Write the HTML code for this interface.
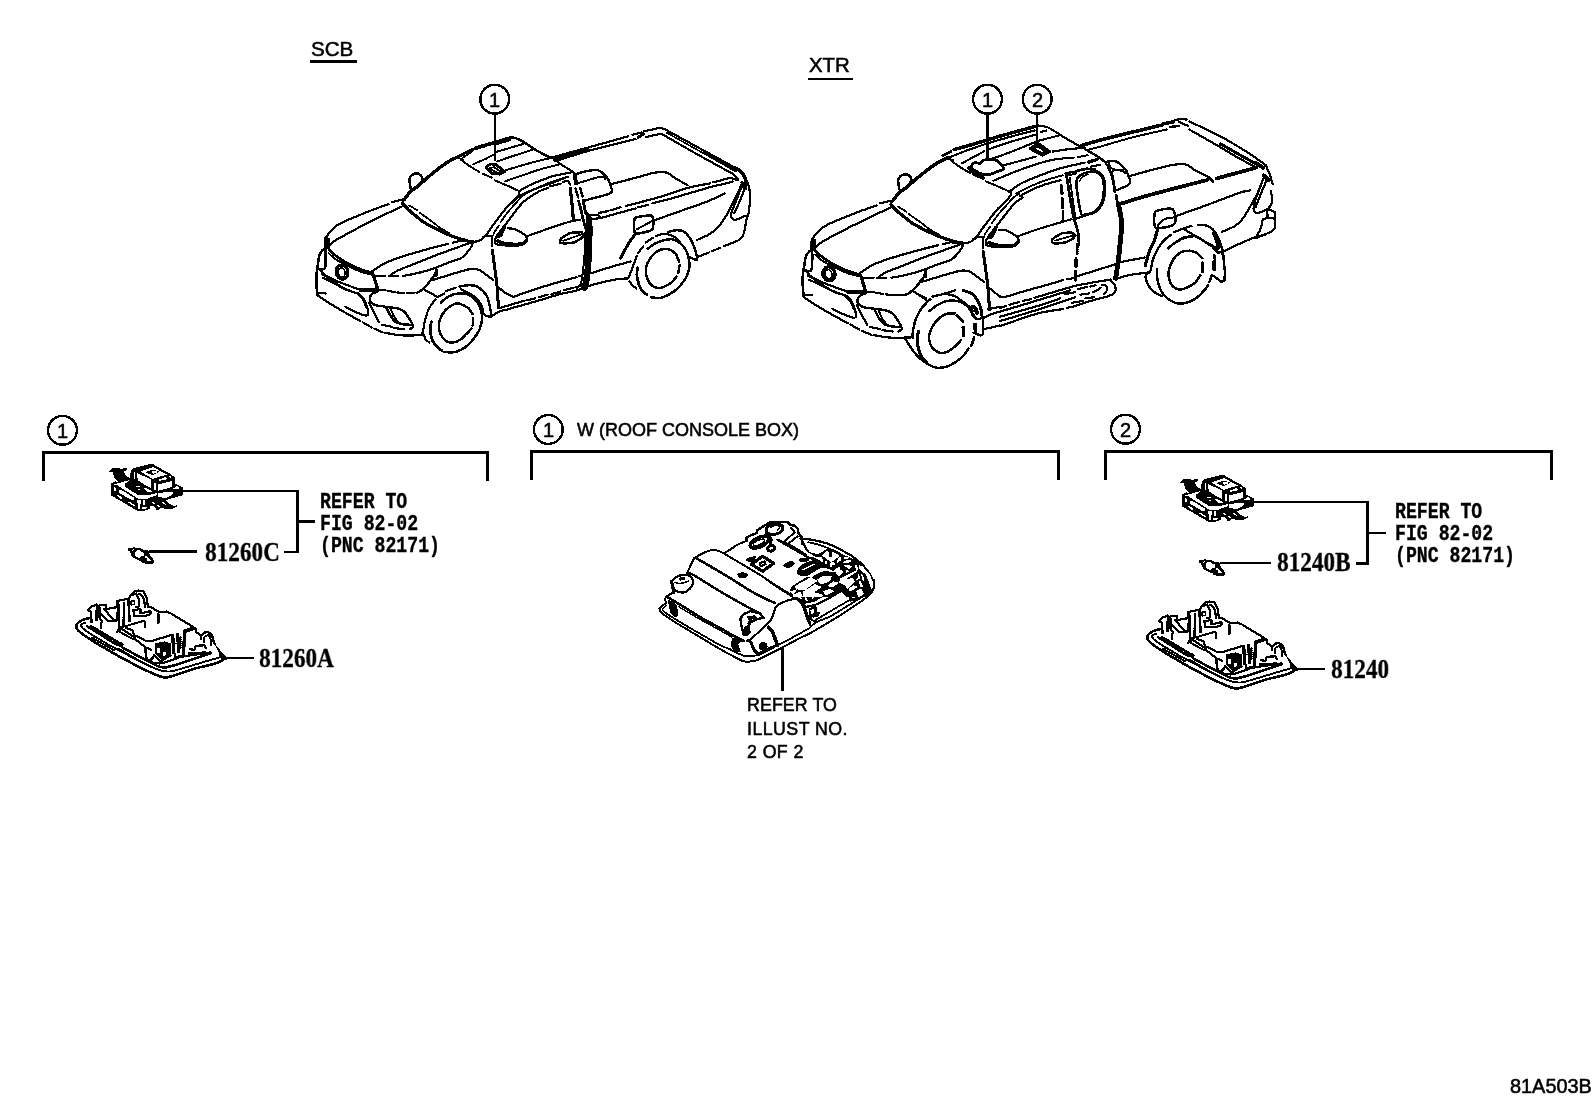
<!DOCTYPE html>
<html>
<head>
<meta charset="utf-8">
<title>81A503B</title>
<style>
html,body{margin:0;padding:0;background:#fff;}
body{width:1592px;height:1099px;position:relative;overflow:hidden;font-family:"Liberation Sans",sans-serif;color:#000;}
svg{position:absolute;left:0;top:0;}
.t{position:absolute;white-space:nowrap;line-height:1;color:#000;transform-origin:0 0;will-change:transform;}
.sans{font-family:"Liberation Sans",sans-serif;-webkit-text-stroke:0.55px #000;}
.mono{font-family:"Liberation Mono",monospace;font-weight:bold;-webkit-text-stroke:0.3px #000;}
.serif{font-family:"Liberation Serif",serif;font-weight:bold;-webkit-text-stroke:0.35px #000;}
</style>
</head>
<body>
<svg width="1592" height="1099" viewBox="0 0 1592 1099" fill="none" stroke="#000" stroke-linecap="round" stroke-linejoin="round" shape-rendering="crispEdges">
<defs>
<!--SYMBOLS-->
<g id="front">
<path stroke-width="2.2" d="M326.3 237.4C326.8 236.7 327.9 234.3 328.8 233C329.8 231.8 330.6 231.2 332 229.9C333.3 228.6 334.8 227 337 225.5C339.2 224 341.3 222.9 345.2 221.1C349 219.3 355.6 216.7 360.3 214.8C364.9 212.9 369.8 211 372.8 209.8C375.9 208.6 377.5 208.2 378.5 207.9M379.7 207.3L388.5 204.1M391.7 202.3C393.1 201.9 398.5 200.5 400.5 200C402.4 199.5 403.1 199.5 403.6 199.4M328.8 245.6C329.9 244.8 332.4 242.4 335.1 240.6C337.8 238.8 341 237.2 345.2 234.9C349.4 232.6 355.6 229.2 360.3 226.8C364.9 224.4 368.6 222.6 372.8 220.5C377 218.4 380.6 216.5 385.4 214.2C390.2 211.9 399 207.9 401.7 206.7"/>
<path stroke-width="3.2" d="M402.3 203.5C402.9 204 404.1 205.3 405.5 206.7C406.8 208 408.6 210 410.5 211.7C412.4 213.4 414.7 215 416.8 216.7C418.9 218.4 420.8 220.2 423.1 221.7C425.4 223.3 427.7 224.6 430.6 226.1C433.5 227.7 437.3 229.6 440.7 231.2C444 232.7 447.4 234.2 450.7 235.6C454.1 236.9 457.2 238 460.8 239.1C464.3 240.2 470.2 241.6 472.1 242.1"/>
<path stroke-width="1.8" d="M409.2 205.4L417.4 210.4M419.9 212.9C421.7 214.2 427.1 217.9 430.6 220.5C434.1 223 437.5 226.2 440.7 228.3C443.8 230.4 448 232.2 449.4 233"/>
<path stroke-width="3.4" d="M404.2 199.7C405.3 198.4 408.4 193.7 410.5 191.6C412.6 189.5 414.7 188.9 416.8 187.2C418.9 185.5 419.9 184.3 423.1 181.5C426.2 178.8 431.4 174.2 435.6 170.9C439.8 167.5 444.5 164 448.2 161.7C451.9 159.4 456 157.8 457.6 157"/>
<path stroke-width="2" d="M402.3 203.9C402.4 203.4 402.4 202.1 403 201C403.5 199.9 404.2 198.7 405.5 197.2C406.7 195.8 409.7 193 410.5 192.2"/>
<path stroke-width="2.5" d="M410.5 187.8C410.3 186.3 409.3 181.1 409.5 179C409.7 176.9 410.8 176.2 411.8 175.3C412.8 174.3 414.2 173.5 415.5 173.4C416.9 173.3 418.8 173.8 419.9 174.6C421.1 175.5 422.3 177 422.4 178.4C422.5 179.8 421.7 181.3 420.6 182.8C419.4 184.3 417 186 415.5 187.2C414.1 188.3 412.4 189.3 411.8 189.7"/>
<path stroke-width="2" d="M457.6 157.9L462.6 159.2M460.8 159.5C462 160.5 465.2 163.1 468.3 165.2C471.4 167.3 477.7 171 479.6 172.1M482.7 173.7L491.5 177.5M494.7 180.3C496.1 180.9 500.9 183 503.5 184C506 185.1 507.9 185.9 510 186.8C512.1 187.8 514.5 189 516 189.7C517.6 190.4 518.6 190.7 519.2 191"/>
<path stroke-width="2.2" d="M472.1 242.1C473.3 241.8 477.3 241.7 479.6 240.6C481.9 239.5 484 237.6 485.9 235.6C487.8 233.5 488.8 230.9 490.9 228C493 225.1 495.9 221.3 498.4 218C501 214.7 504.1 210.4 506 208.2C507.9 205.9 508.5 205.9 510 204.4C511.5 202.9 513.6 200.7 515 199.1C516.5 197.5 518.1 196.1 518.8 194.7C519.5 193.4 519.3 191.6 519.4 191"/>
<path stroke-width="1.8" d="M493.5 233.5L498.8 225.6M500.6 222.1C501.8 220.5 505.3 215.3 507.7 212.4C510 209.4 512.4 207.1 514.7 204.4C517.1 201.8 519.7 198.4 521.8 196.5C523.8 194.6 526.2 193.5 527.1 192.9"/>
<path stroke-width="2.2" d="M497.1 235.3C498.2 233.8 502.1 229.1 504.1 226.5C506.2 223.8 507.2 222.4 509.4 219.4C511.6 216.5 515 211.8 517.4 208.8C519.7 205.9 521.3 203.8 523.5 201.8C525.8 199.7 529.4 197.4 530.6 196.5"/>
<path stroke-width="1.2" fill="#000" d="M497.1 237.5L501.5 236.4L505.9 226.5L504.1 224.9Z"/>
<path stroke-width="2.2" d="M507.7 228.3C508.8 228.4 512.5 228.5 514.7 229.1C516.9 229.8 519.1 231.1 520.9 232.2C522.7 233.3 524.8 234.4 525.8 235.8C526.7 237.2 527 239.2 526.6 240.6C526.3 242 524.9 243.3 523.5 244.1C522.2 244.9 521.2 245.2 518.3 245.5C515.3 245.7 509.6 245.7 505.9 245.5C502.2 245.2 498 244.9 496.2 244.1C494.3 243.3 494.9 241.8 494.9 240.6C494.9 239.4 496 237.7 496.2 237.1"/>
<path stroke-width="3.6" d="M498 241.1C499.3 241.5 501.9 243.2 505.9 243.7C509.9 244.2 518.4 244.5 521.8 244C525.2 243.4 525.5 241.2 526.2 240.6"/>
<path stroke-width="2" d="M482.9 237.3C483.5 237 484.7 236.2 486.5 235.9C488.2 235.6 492.4 235.6 493.5 235.5"/>
<path stroke-width="2.5" stroke-dasharray="1.2 1" d="M492 236.2L492 246.8"/>
<path stroke-width="3" d="M492.4 250.1C492.6 251.8 493.2 257 493.7 260.2C494.1 263.3 494.3 264.4 494.9 269C495.5 273.6 496.6 281.3 497.2 287.8C497.8 294.3 498.2 304.6 498.4 307.9"/>
<path stroke-width="4" d="M326.1 238.2L325.7 247.6"/>
<path stroke-width="1.8" d="M328.8 238.8L328.8 248.9"/>
<path stroke-width="2.8" d="M328.8 248.9C329.9 249.9 332.4 253 335.1 255.2C337.8 257.3 341.4 259.9 345.2 262.1C348.9 264.3 353.6 266.6 357.7 268.3C361.9 270.1 368.2 271.8 370.3 272.5"/>
<path stroke-width="2" d="M328.8 253.3C329.9 254.2 332 256.8 335.1 258.9C338.3 261 343.5 263.7 347.7 265.8C351.9 267.9 356.3 270 360.3 271.5C364.2 272.9 369.7 274.1 371.6 274.6"/>
<path stroke-width="2.2" d="M371.6 271.7C373.9 270.3 379.9 265.6 385.4 262.9C390.8 260.3 397.9 258.1 404.2 256C410.5 253.9 416.8 252.2 423.1 250.4C429.3 248.6 437.7 246.4 441.9 245.4C446.1 244.3 447.1 244.1 448.2 243.8M453.2 242.6L459.5 241.1M462 241L472.1 241.1M390.4 275.3C391.7 274.5 393.5 272.5 397.9 270.5C402.3 268.4 410.5 265.5 416.8 262.9C423.1 260.4 429.3 257.8 435.6 255.4C441.9 253 448.6 250.6 454.5 248.5C460.3 246.4 468.1 243.6 470.8 242.6M473.3 241.3C472.9 242.4 472.1 245.5 470.8 247.6C469.5 249.7 467.5 252.1 465.8 253.9C464.1 255.7 463.7 256.8 460.8 258.3C457.8 259.8 452.4 261.1 448.2 262.7C444 264.3 439.8 266.2 435.6 267.7C431.4 269.2 427.3 270.6 423.1 271.7C418.9 272.9 413.9 273.9 410.5 274.6C407.2 275.3 404.2 275.7 403 275.9M397.9 276.3L389.1 276.3M385.4 276L375.3 275.9"/>
<path stroke-width="2.5" d="M326.3 247.6C325.7 248 323.7 248.9 322.6 250.1C321.4 251.4 320.2 253.1 319.4 255.2C318.7 257.2 318.6 260.2 318.2 262.7C317.7 265.2 317.2 267.5 316.9 270.2C316.6 272.9 316.3 275.7 316.3 279C316.3 282.4 316.7 287.6 316.9 290.3C317.1 293 317.4 294.5 317.5 295.4M325.7 248.9C325.6 252 326.1 264.4 325.1 267.7C324 271.1 320.4 268.8 319.4 269"/>
<path stroke-width="2.2" d="M319.4 269C320.4 270 322.5 273.4 325.1 275.3C327.7 277.1 331.4 278.6 335.1 280.3C338.9 282 343.5 283.7 347.7 285.3C351.9 286.9 358.2 289 360.3 289.7"/>
<path stroke-width="3.8" d="M360.3 290.1L376.6 289.7"/>
<path stroke-width="1.6" d="M321.3 274C323.2 275.1 329.1 278.7 332.6 280.9C336.2 283.1 339.3 285.4 342.7 287.2C346 289 351 290.9 352.7 291.6"/>
<path stroke-width="2.2" d="M322.6 277.8C324.7 278.8 330.9 282 335.1 284C339.3 286.1 343.9 288.8 347.7 290.3C351.5 291.9 355.2 292.2 357.7 293.5C360.3 294.7 361.3 295.9 362.8 297.9C364.2 299.9 365.6 302.7 366.5 305.4C367.5 308.1 368.6 312.5 368.4 314.2C368.2 315.9 367.1 315.7 365.3 315.5C363.5 315.2 361.1 314.4 357.7 312.9C354.4 311.5 347.3 307.7 345.2 306.7"/>
<path stroke-width="3.2" d="M358.4 294.1C359.2 294.9 362 297 363.4 299.1C364.8 301.2 366 305.4 366.5 306.7"/>
<ellipse cx="342" cy="272.1" rx="5.9" ry="7" transform="rotate(-12 342 272.1)" stroke-width="3.2"/>
<ellipse cx="341.7" cy="272.5" rx="3.3" ry="4.6" transform="rotate(-12 341.7 272.5)" stroke-width="1.6"/>
<path stroke-width="3.2" d="M372.8 273.4C373.2 274.7 374.5 278.8 375.3 281.5C376.2 284.3 377.4 288.3 377.8 289.7"/>
<path stroke-width="2.2" stroke-dasharray="7 2.5" d="M378.5 289.8C379.6 289.9 382.6 289.9 385.4 290.3C388.2 290.7 392.1 291.8 395.4 292.2C398.8 292.7 401.9 293 405.5 293.1C409 293.2 414.9 292.9 416.8 292.8"/>
<path stroke-width="2.5" d="M416.8 292.8C417.4 292.5 419.1 292 420.6 291C422 289.9 423.9 288.3 425.6 286.6C427.3 284.8 429.1 282.2 430.6 280.3C432.1 278.4 433.4 276.9 434.4 275.3C435.3 273.6 435.9 271.1 436.3 270.2"/>
<path stroke-width="3" d="M436.3 269.6L436.3 275.3"/>
<path stroke-width="2.2" d="M431.9 280.3C434.6 279.4 443.4 276.7 448.2 275.3C453 273.8 457 272.5 460.8 271.5C464.5 270.4 467.9 269.3 470.8 269C473.7 268.7 475.8 268.7 478.3 269.6C480.9 270.5 483.4 272.8 485.9 274.6C488.4 276.4 492.2 279.3 493.4 280.3M424.3 289.7L436.9 296.6"/>
<path stroke-width="2.4" d="M377.8 291.6C377 291.9 374.2 292.4 372.8 293.5C371.5 294.5 369.9 296.3 369.7 297.9C369.5 299.4 370.4 301.6 371.6 302.9C372.7 304.1 374.3 304.8 376.6 305.4C378.9 306 381.8 306.1 385.4 306.7C388.9 307.2 394.8 307.7 397.9 308.5C401.1 309.4 402.5 310.3 404.2 311.7C405.9 313 406.7 314.8 408 316.7C409.2 318.6 410.9 321.3 411.8 323C412.6 324.7 413.3 325.7 413 326.8C412.7 327.8 410.4 328.9 409.9 329.3"/>
<path stroke-width="2.5" d="M386.6 307.9C387.3 309.2 388.9 313.1 390.4 315.5C391.9 317.8 393.3 320.3 395.4 321.7C397.5 323.2 400.2 323.7 403 324.2C405.7 324.8 410.3 324.8 411.8 324.9"/>
<path stroke-width="1.9" d="M390.4 308.5C391 309.9 392.9 314.5 394.2 316.7C395.4 318.9 397.3 320.9 397.9 321.7"/>
<path stroke-width="2.2" d="M317.5 295.4C319.4 296.6 324.9 300.4 328.8 302.9C332.8 305.4 336.2 307.4 341.4 310.4C346.6 313.5 357.1 319.3 360.3 321.1M362.8 322.4L371.6 327.4M374.1 328.6L382.9 332.4M385.4 332.8C387.9 333.2 394.4 334.9 400.5 335.3C406.5 335.7 418.2 335.3 421.8 335.3M382.2 324.9L391.7 326.8M394.2 328L404.2 329.3M317.5 292.8L325.7 293.5M369 302.9C369.9 304.6 372.4 309.7 374.1 312.9C375.7 316.2 378.3 320.8 379.1 322.4"/>
</g>
<!--/SYMBOLS-->
</defs>

<!-- headings underline -->
<g stroke-width="2.6" stroke-linecap="butt">
<line x1="310" y1="61.5" x2="357" y2="61.5"/>
<line x1="808" y1="79.2" x2="853" y2="79.2" stroke-width="2.2"/>
</g>

<!-- callout circles -->
<g stroke-width="2.4">
<circle cx="494.7" cy="99.2" r="14.4"/>
<circle cx="987.5" cy="99.2" r="14.4"/>
<circle cx="1037.2" cy="99.2" r="14.4"/>
<circle cx="62.5" cy="430.3" r="14.4"/>
<circle cx="548.3" cy="429.5" r="14.4"/>
<circle cx="1125.5" cy="429.2" r="14.4"/>
</g>
<!-- callout leaders -->
<g stroke-linecap="butt">
<line x1="494.7" y1="114" x2="494.7" y2="161" stroke-width="2.2"/>
<line x1="987.5" y1="114" x2="987.5" y2="160" stroke-width="2.8"/>
<line x1="1037.2" y1="114" x2="1037.2" y2="141" stroke-width="2.4"/>
</g>

<!-- brackets -->
<g stroke-width="3" stroke-linecap="butt" stroke-linejoin="miter">
<polyline points="43,480.8 43,452.5 487.5,452.5 487.5,480.8"/>
<polyline points="531.7,479.8 531.7,451.5 1058,451.5 1058,479.8"/>
<polyline points="1105.8,479.5 1105.8,451.2 1551.3,451.2 1551.3,479.7"/>
</g>

<!-- leaders in panels -->
<g stroke-width="2.5" stroke-linecap="butt" stroke-linejoin="miter">
<polyline points="183,490.8 297.3,490.8 297.3,552 284,552"/>
<line x1="297.3" y1="521.3" x2="314.7" y2="521.3"/>
<line x1="149" y1="551.7" x2="196.7" y2="551.7"/>
<line x1="224.7" y1="658.2" x2="254.2" y2="658.2"/>
<line x1="782.3" y1="647.5" x2="782.3" y2="691" stroke-width="3"/>
<polyline points="1253,501.8 1367.3,501.8 1367.3,563.6 1355.5,563.6"/>
<line x1="1367.3" y1="532.8" x2="1385.8" y2="532.8"/>
<line x1="1220" y1="563" x2="1270.8" y2="563"/>
<line x1="1295.6" y1="669.1" x2="1324.8" y2="669.1"/>
</g>

<!--TRUCK1-->
<use href="#front"/>
<path stroke-width="3" d="M457.6 157C459.2 156.2 464 153.5 467 152C470.1 150.5 474.4 148.9 475.8 148.2"/>
<path stroke-width="3.8" d="M475.8 148.2L485.9 145.1M487.1 144.6L493.4 143M495.9 142.6C497.2 142.2 501.1 140.8 503.5 140.1C505.8 139.3 508.9 138.5 510 138.2"/>
<path stroke-width="1.8" d="M462.6 157.9L472.1 151.4M497.2 144.1L510 140.3"/>
<path stroke-width="2.4" d="M510 137.6C510.8 137.6 512.9 137.3 515 137.9C517.1 138.6 519.2 139.4 522.6 141.3C525.9 143.3 530.9 147 535.1 149.5C539.3 152 544.9 155.1 547.7 156.4C550.5 157.7 551.4 157.2 552.1 157.4"/>
<path stroke-width="2" d="M473.3 164.2C475.4 163.3 482.3 160.3 485.9 158.7C489.4 157 493.2 154.9 494.7 154.1M495.9 152C498.3 151.3 505.4 149.2 510 147.9C514.6 146.5 521.5 144.5 523.8 143.8M497.2 161.4C499.3 160.7 504 159 510 157C516 155 529.4 150.8 533.2 149.5M505 170.5C505.8 170.2 507.1 169.8 510 169C512.9 168.1 518.4 166.4 522.6 165.2C526.8 164 530.5 162.9 535.1 161.7C539.7 160.5 547.7 158.8 550.2 158.2M504.7 181.5C505.6 181.2 507 180.7 510 179.6C513 178.6 517.3 177 522.6 175.3C527.8 173.5 535.3 170.7 541.4 169C547.5 167.2 556.1 165.3 559 164.6"/>
<path stroke-width="2.8" d="M485.9 167.1L490.9 163.9L495.9 164.6L504.7 171.5L499.7 174.2L492.2 173.4Z"/>
<path stroke-width="1.9" d="M489.6 168.3L494 167.1L501.6 172.1L497.2 173Z"/>
<path stroke-width="2.1" d="M552.1 157.4C553 158.2 555.5 160.4 557.7 162.1C559.9 163.7 562.7 165.4 565.3 167.1C567.9 168.8 572.1 171.3 573.4 172.1"/>
<path stroke-width="2.2" d="M519.4 191C521 190.1 525.2 187.3 528.8 185.6C532.5 183.8 537.2 181.9 541.4 180.3C545.6 178.7 548.7 177.2 554 175.9C559.2 174.5 569.7 172.7 572.8 172.1M510 204.4C511.3 203.3 514.8 199.6 517.5 197.6C520.3 195.6 522.4 194.4 526.3 192.6C530.3 190.7 536.8 188.3 541.4 186.6C546 184.8 549.6 183.8 554 182.2C558.4 180.5 565.5 177.7 567.8 176.8"/>
<path stroke-width="1.8" d="M527.1 192.9C529.1 191.9 535.2 188.7 539.4 186.8C543.7 184.9 548 183.2 552.7 181.5C557.4 179.8 565.2 177.4 567.7 176.6"/>
<path stroke-width="2.2" d="M530.6 196.5C532.1 195.6 536.5 192.7 539.4 191.2C542.4 189.7 546.8 188.2 548.3 187.7M550 186.3L560.6 183.7M563.3 181.9C564 181.8 566.5 180.6 567.7 181C568.9 181.5 569.9 184 570.3 184.6"/>
<path stroke-width="2.1" d="M527.1 236.2C529.1 235.5 534.4 233.5 539.4 231.8C544.4 230 551.5 227.4 557.1 225.6C562.7 223.8 569.1 221.8 573 220.9C576.8 220 578.9 220.4 580 220.3"/>
<path stroke-width="3.2" d="M570.3 188.5C570.5 189.9 570.8 192.9 571.2 196.5C571.6 200 572.2 205.7 572.5 209.7C572.9 213.7 573.3 218.7 573.4 220.5"/>
<path stroke-width="2.5" d="M575.6 188.5L578.3 197.4M580 187.7L582.7 196.5"/>
<path stroke-width="2.8" d="M578.7 201.3C579.1 202.7 580.1 206.4 580.9 209.7C581.7 213 582.5 217.5 583.6 221.2C584.6 224.9 586.5 230 587.1 231.8"/>
<path stroke-width="2" d="M585.1 232.5C585.2 233.4 585.5 233.6 585.4 237.6C585.3 241.5 584.9 250.1 584.4 256.4C583.9 262.7 583.1 270.6 582.5 275.3C581.9 279.9 581.6 281.9 580.6 284C579.6 286.2 577.3 287.4 576.6 288.1"/>
<path stroke-width="2.5" d="M582.9 200.5C583.3 202.4 584.6 209.8 585.3 212.4C586.1 214.9 586.9 214.7 587.5 215.9C588.1 217.1 588.6 218.8 588.9 219.4"/>
<path stroke-width="6.5" d="M588.9 219.3C589 221.1 589.4 226.6 589.4 230C589.4 233.5 589.3 235.7 589.1 240.1C589 244.5 589 250.5 588.6 256.4C588.3 262.3 587.7 270.4 587.1 275.3C586.6 280.1 585.8 283.2 585.4 285.3C584.9 287.4 584.5 287.4 584.4 287.8"/>
<path stroke-width="2.4" d="M574.1 174.6C576.4 174 583.9 171.6 587.9 170.9C591.9 170.1 595.4 169.8 597.9 170.2C600.5 170.6 601.3 171.9 603 173.4C604.6 174.8 606.7 177 608 179C609.2 181 609.9 183.3 610.5 185.3C611.1 187.3 612.2 189.5 611.8 191C611.3 192.4 612.8 192.4 608 194.1C603.2 195.8 587.1 199.9 582.9 201"/>
<path stroke-width="2" d="M578.5 183C582.1 182 596 177.4 600.5 176.8C605 176.1 604.6 178.9 605.5 179.3"/>
<path stroke-width="4" d="M574.6 174.6L576.1 183.4"/>
<path stroke-width="2.2" d="M573.4 172.1L574.3 174.6M552.7 157.7C554 157.2 554.4 156.8 560.3 155.2C566.1 153.5 576.6 150.8 587.9 147.6C599.2 144.5 621.4 138.2 628.1 136.3M632.5 134.8L641.9 132.5M644.4 131C645.9 130.8 650.7 129.9 653.2 129.4C655.7 128.9 657.4 127.8 659.5 127.8C661.6 127.8 664.7 129.1 665.8 129.4M555.2 161.4C560.7 159.7 574.5 154.7 587.9 151C601.3 147.3 627.7 141.1 635.6 139.1"/>
<path stroke-width="3.1" d="M638.1 137.6L643.2 134"/>
<path stroke-width="2.2" d="M646.3 136.9L660.8 133.8"/>
<path stroke-width="2.8" stroke-dasharray="1.2 1.6" d="M554 159.5L587.9 149.2"/>
<path stroke-width="2.2" d="M665.1 129.4C671.8 133.1 694.4 145.4 705.3 151.4C716.2 157.3 725.2 162.4 730.4 165.2C735.6 168 734.8 167.2 736.7 168.3C738.6 169.5 740.2 170.5 741.7 172.1C743.2 173.7 744.8 176.8 745.5 177.8M662.6 134.4C668.2 137.7 686.9 148.5 696.5 153.9C706.1 159.3 714.3 163.7 720.4 167.1C726.4 170.4 730 172 732.9 174C735.8 176 737.1 178.4 737.9 179.3"/>
<path stroke-width="1.6" d="M666.3 132.5L704 153.6"/>
<path stroke-width="3.2" stroke-dasharray="1.2 1.2" d="M704 152.6L735.4 170.5"/>
<path stroke-width="3.5" d="M732.9 169C733.8 169 736.3 168.4 737.9 169.2C739.6 170.1 741.7 172.2 743 174C744.3 175.8 745.5 178.4 745.7 180.3C745.9 182.2 744.5 184.5 744.2 185.3"/>
<path stroke-width="2.2" d="M745.5 177.8C746.1 179.4 748.5 184 749.2 187.8C750 191.6 750 196.2 749.9 200.4C749.8 204.6 749.2 209.6 748.6 212.9C748 216.3 746.7 217.8 746.1 220.5C745.5 223.2 745.5 226.5 744.8 229.3C744.2 232 743.5 234.9 742.3 236.8C741.2 238.7 741 239 737.9 240.6C734.9 242.1 726.4 245.3 724.1 246.2M720.4 247.7L711.6 251.3M709 252.5L697.7 256.9M743 184C742.3 185.5 740.5 189.7 739.2 192.8C737.9 196 736.7 199.7 735.4 202.9C734.2 206 732.3 209.2 731.7 211.7C731 214.2 731 216.6 731.7 218C732.3 219.3 733.1 220.2 735.4 219.8C737.7 219.5 743.8 216.4 745.5 215.7M746.1 184C745.6 185.5 744.3 189.3 743 192.8C741.6 196.4 739.4 202.1 737.9 205.4C736.5 208.8 734.8 211.7 734.2 212.9"/>
<path stroke-width="3.8" d="M742.3 183L745.5 188.4"/>
<path stroke-width="2.2" d="M599.2 212.9L608 211.1M610.5 210.4L620.6 207.3M625.6 206C627.3 205.6 629.8 205.1 635.6 203.5C641.5 201.9 652 199.2 660.8 196.6C669.5 194 680.2 190 688.4 187.8C696.6 185.6 706.4 184.1 710 183.4M712.8 182.4L720.4 180.5M722.2 180C723.6 179.7 727.8 178 730.4 178C733 178.1 736.7 179.9 737.9 180.3M587.9 219.2C590 219 594.2 219.3 600.5 218C606.7 216.6 619.7 212.6 625.6 211.1C631.4 209.5 634 209 635.6 208.5M638.1 207.3L648.2 204.8M652 203.5C655.5 202.6 663.6 200.6 673.3 197.9C683 195.1 703.9 189 710 187.2M710.1 187.2C710.9 187 711.5 186.9 715.3 185.9C719.1 185 730 182.3 732.9 181.5M584.1 201C584.3 202.6 584.5 208.1 585.4 210.4C586.2 212.7 587.1 214 589.1 214.8C591.2 215.6 596.1 214.6 597.9 215.1C599.8 215.6 600 217.5 600.5 218M611.8 184C615.7 183 628.5 179.6 635.6 177.8C642.7 175.9 649.2 173.6 654.5 172.7C659.7 171.9 663.7 171.9 667 172.7C670.4 173.6 671.1 175.7 674.6 177.8C678 179.9 685.6 184 687.8 185.3M653.8 220.5C657.3 219.2 667.4 215.7 675.1 212.9C682.9 210.2 694 206.4 700.3 204.1C706.5 201.8 709.5 200.6 712.8 199.1C716.2 197.7 718.4 196.3 720.4 195.4C722.3 194.4 724 193.8 724.7 193.5"/>
<path stroke-width="2.5" d="M634.4 219.8C634.8 217.4 634.4 218.1 636.9 217.3C639.4 216.6 646.8 215.5 649.4 215.5C652.1 215.5 652 215.5 652.6 217.3C653.2 219.2 653.5 224.6 653.2 226.8C652.9 229 653.4 229.4 650.7 230.5C648 231.7 639.6 233.5 636.9 233.7C634.2 233.9 634.8 234.1 634.4 231.8C634 229.5 634 222.3 634.4 219.8Z"/>
<path stroke-width="2" d="M636.9 229.3L652 221.1"/>
<path stroke-width="3" d="M635 234.3C633.8 236 630.5 240.4 628.1 244.3C625.7 248.3 621.8 255.9 620.6 258.2"/>
<path stroke-width="2.2" d="M697.1 239.9C699.3 238.9 706.4 236.3 710.3 233.7C714.2 231.1 717.4 227.7 720.4 224.2C723.3 220.8 725.8 216.5 727.9 212.9C730 209.4 731.2 206.2 732.9 202.9C734.6 199.5 736.5 196 737.9 192.8C739.4 189.7 741.1 185.5 741.7 184"/>
<path stroke-width="2.4" d="M668.3 231.9C669.5 231.6 673.3 230.4 675.8 230.3C678.3 230.2 681.1 230.1 683.4 231.3C685.7 232.5 688 235.3 689.6 237.6C691.3 239.9 692.4 242.6 693.4 245.1C694.5 247.6 695.3 250.3 695.9 252.6C696.6 254.9 697.4 257.8 697.2 258.9C697 260.1 696.1 260 694.7 259.5C693.2 259.1 689.4 256.9 688.4 256.4"/>
<path stroke-width="2.2" d="M645.7 242.6L653.2 237.6M655.7 236.3C657.2 235.9 661.6 233.8 664.5 233.8C667.5 233.8 670.8 235.1 673.3 236.3C675.8 237.6 678.6 240.5 679.6 241.3"/>
<path stroke-width="2.5" d="M647.6 248.9C648.7 248 651.6 245.3 654.5 243.8C657.3 242.4 661.4 240.8 664.5 240.1C667.7 239.3 670.6 238.8 673.3 239.4C676 240.1 678.8 242.1 680.9 243.8C682.9 245.6 684.6 247.8 685.9 250.1C687.1 252.4 687.8 254.9 688.4 257.7C689 260.4 689.9 263.5 689.6 266.5C689.4 269.4 688.2 272.7 687.1 275.3C686.1 277.8 685 279.2 683.4 281.5C681.7 283.8 679.4 287 677.1 289.1C674.8 291.2 672.3 292.6 669.5 294.1C666.8 295.6 663.9 297.3 660.8 297.9C657.6 298.4 652.4 297.3 650.7 297.2"/>
<path stroke-width="2.8" d="M637.5 267.7C637.4 269 636.7 272.5 636.9 275.3C637.1 278 637.9 281.5 638.8 284C639.6 286.6 640.5 288.5 641.9 290.3C643.3 292.1 646.1 294 646.9 294.7"/>
<path stroke-width="2.2" d="M629.3 281.5C629.9 282.2 631.3 284.1 632.5 285.3C633.6 286.5 635.6 287.9 636.3 288.4"/>
<path stroke-width="2.5" d="M675.8 253.9C675 253.3 672.7 251 670.8 250.1C668.9 249.3 666.8 248.7 664.5 248.9C662.2 249.1 659.3 249.9 657 251.4C654.7 252.8 652.5 255.2 650.7 257.7C648.9 260.2 647 263.5 646.3 266.5C645.6 269.4 645.8 272.5 646.3 275.3C646.8 278 648.1 280.8 649.4 282.8C650.8 284.8 652.6 286.3 654.5 287.2C656.4 288 658.7 288.1 660.8 287.8C662.8 287.5 665.2 286.2 667 285.3C668.9 284.4 671.2 282.7 672.1 282.2M676.1 254.1L679 261.4M679.6 265.2L678.3 272.7M676.5 276.5L672.3 281.9"/>
<path stroke-width="2.2" d="M628.1 278.4C628.5 277.4 629.6 275.4 630.6 272.7C631.6 270.1 633.3 265.5 634.4 262.7C635.4 259.9 636.5 256.9 636.9 255.8M638.1 252.9L643.2 246.4M585.4 287.2C587.5 286.6 592.7 284.7 597.9 283.4C603.2 282.1 611.8 280.1 616.8 279.3C621.8 278.4 626.2 278.5 628.1 278.4M590.4 273.4C593.8 272.3 603.8 269.1 610.5 267.1C617.2 265.1 627.3 262.4 630.6 261.4M497.8 286.6C498.8 287.4 501.4 290.1 503.5 291.6C505.5 293 508.3 294.5 510 295.4C511.7 296.2 511.7 296.9 513.8 296.6C515.9 296.3 516.9 295.4 522.6 293.5C528.2 291.6 538.7 288 547.7 285.3C556.7 282.6 571.8 278.5 576.6 277.1M579.1 275.9L582.2 275.3M498.4 308.2L510 305.2M510 304.8L523.8 301M526.3 300.4L535.1 298.5M538.9 297.2L547.7 294.7M551.5 294.1L560.3 291.6M564 290.3L572.8 287.8M575.3 287.4L581.6 285.6M490.3 317.3C491.6 316.4 495.2 313.3 498.4 311.9C501.7 310.5 508.1 309.4 510 308.9M510 308.5C514.2 307.4 526.8 304 535.1 301.6C543.5 299.2 553.3 295.9 560.3 294.1C567.2 292.3 572.8 291.6 576.6 290.6C580.4 289.5 581.8 288.3 582.9 287.8"/>
<path stroke-width="2.4" d="M560.2 240.6L561.5 238L570.3 232.8L581.8 232.2L583.6 235.3L581.8 238L574.7 242.4L564.1 243.7L560.2 242.6Z"/>
<path stroke-width="1.8" d="M563.3 240.8L580.9 234.6"/>
<path stroke-width="2.2" d="M421.8 335.3C422 334.5 422.4 333.4 423.1 330.5C423.7 327.6 424.5 321.7 425.6 318C426.6 314.2 427.7 311.1 429.3 307.9C431 304.8 434.6 300.6 435.6 299.1M436.9 297.2L444.4 293.5M446.3 291L455.7 287.8"/>
<path stroke-width="2.4" d="M459.5 286.6C461 286.3 465.6 285.4 468.3 285.3C471 285.2 473.5 285.1 475.8 285.9C478.1 286.8 480.2 288.5 482.1 290.3C484 292.1 485.9 294.1 487.1 296.6C488.4 299.1 489 302.7 489.6 305.4C490.3 308.1 490.8 311 490.9 312.9C491 314.9 490.4 316.6 490.3 317.3"/>
<path stroke-width="2.2" d="M460.8 289.1C462.2 289.8 466.8 291.8 469.5 293.5C472.3 295.1 475 296.9 477.1 299.1C479.2 301.3 481 304.1 482.1 306.7C483.3 309.2 482.6 312.4 484 314.2C485.4 316 489.2 316.8 490.3 317.3"/>
<path stroke-width="2.5" d="M440.7 302.9C441.9 301.8 445.3 298.2 448.2 296.6C451.1 295 454.9 293.8 458.2 293.5C461.6 293.2 465.4 293.6 468.3 294.7C471.2 295.9 473.8 298.2 475.8 300.4C477.8 302.6 479.2 305 480.2 307.9C481.3 310.8 482.2 314.4 482.1 318C482 321.5 481.1 325.7 479.6 329.3C478.1 332.8 475.6 336.4 473.3 339.3C471 342.3 468.7 344.8 465.8 346.9C462.8 349 459.3 351 455.7 351.9C452.2 352.8 446.3 352.1 444.4 352.1"/>
<path stroke-width="2.8" d="M431.2 321.7C431.1 323.4 430.1 328.6 430.4 331.8C430.6 334.9 431.4 338.1 432.5 340.6C433.6 343.1 435.3 345.2 436.9 346.9C438.5 348.5 441.1 350 441.9 350.6"/>
<path stroke-width="2.2" d="M423.7 334.3C424 335.1 424.6 338 425.6 339.3C426.5 340.7 428.7 341.9 429.3 342.5"/>
<path stroke-width="2.5" d="M468.3 307.9C466.6 307.2 461.4 303.7 458.2 303.5C455.1 303.3 452.1 304.9 449.4 306.7C446.8 308.4 444.3 311.3 442.5 314.2C440.8 317.1 439.1 320.9 438.8 324.2C438.5 327.6 439.4 331.5 440.7 334.3C441.9 337.1 444.2 339.8 446.3 341.2C448.4 342.6 450.8 342.8 453.2 342.5C455.6 342.1 458.5 340.9 460.8 339.3C463.1 337.8 466 334.1 467 333M468.5 308.2L472.7 314.2M473.3 318L472.7 325.5M471.4 328.6L467.3 333.3"/>
<!--/TRUCK1-->
<!--TRUCK2-->
<use href="#front" transform="matrix(1.026 0 0 1.008 478.06 -0.456)"/>
<path stroke-width="3.5" d="M954.1 149.6C956.8 148.9 965 146.6 970.2 145.1C975.3 143.6 980.2 142.1 985.2 140.6C990.3 139.1 994.4 137.7 1000.3 136.1C1006.2 134.4 1014.6 132.1 1020.4 130.5C1026.2 128.9 1032.5 127.2 1035 126.5"/>
<path stroke-width="2.5" d="M942.5 155.7L951.1 151.6"/>
<path stroke-width="1.8" d="M945 154.1L951.6 151.1"/>
<path stroke-width="2.1" d="M950.1 157.2C952.6 156.2 959.3 153.3 965.1 151.1C971 149 979.4 146 985.2 144.1C991.1 142.2 994.4 141.2 1000.3 139.6C1006.2 137.9 1014.7 135.6 1020.4 134C1026.1 132.5 1032.1 131.1 1034.5 130.5"/>
<path stroke-width="3.8" d="M969.1 168.2C969.8 168.9 970.8 170.6 973.2 172.2C975.5 173.8 981.5 176.8 983.2 177.8"/>
<path stroke-width="2.1" d="M962.1 163.2L984.2 151.3M989.2 149.1C992.8 147.9 1002.7 144.3 1010.4 141.9C1018 139.5 1030.9 136 1035 134.8M992.3 158.7C995.3 157.6 1003 155 1010.4 152.1C1017.7 149.3 1032.1 143.3 1036.5 141.6M1004.3 165.2L1035.5 156.7M993.3 180.8C997.8 178.9 1010.9 173.2 1020.4 169.7C1029.9 166.3 1041.7 162.2 1050.6 160.2C1059.4 158.2 1069.8 158.1 1073.7 157.7M1077.7 157.2L1087.7 155.2"/>
<path stroke-width="2.2" d="M1009.3 191.8C1011.2 190.5 1015.2 186.6 1020.4 183.8C1025.6 181 1033.8 177.8 1040.5 175.3C1047.2 172.7 1053.2 170.3 1060.6 168.2C1068 166.1 1080.7 163.6 1084.7 162.7M1087.7 161.7L1096.8 159.2"/>
<path stroke-width="2.8" d="M971.2 167.2C971 165.9 972.7 163.7 974.2 163C975.7 162.3 978.7 163.6 980.2 163.2C981.7 162.8 981.7 161 983.2 160.4C984.7 159.8 986.9 159.6 989.2 159.7C991.6 159.7 995.4 159.9 997.3 160.7C999.1 161.4 999.2 162.9 1000.3 164.2C1001.4 165.5 1004.2 167.5 1003.8 168.7C1003.5 169.9 1000.6 170.3 998.3 171.2C996 172.2 992.9 173.7 990.3 174.2C987.6 174.7 984.7 174.8 982.2 174.2C979.7 173.7 977 171.9 975.2 170.7C973.3 169.6 971.3 168.5 971.2 167.2Z"/>
<path stroke-width="3.2" d="M1030.5 148.6L1038 143.6L1049.5 151.6L1042.5 155.2Z"/>
<path stroke-width="1.8" d="M1034 148.6L1038 146.6L1045 151.6L1041.5 153.1Z"/>
<path stroke-width="2.2" d="M1052.6 151.6C1054.7 151.3 1060.3 150.3 1065.6 149.6C1071 149 1081.5 147.9 1084.7 147.6M1038 125.5C1039.7 125.8 1044.3 125.9 1048 127.5C1051.8 129.1 1056.8 132.8 1060.6 135.1C1064.4 137.3 1067.3 139.2 1070.7 141.1C1074 143 1078.4 145.5 1080.7 146.6C1083 147.7 1084.1 147.4 1084.7 147.6"/>
<path stroke-width="2.1" d="M1037.5 141.1C1039.7 140.5 1046.7 138.6 1050.6 137.6C1054.4 136.6 1058.9 135.5 1060.6 135.1M1040.5 132L1046.5 130.5"/>
<path stroke-width="2.4" d="M1085.4 149.5C1087.1 150.4 1092.1 153 1095.5 155.2C1098.8 157.3 1103 159.8 1105.5 162.7C1108 165.6 1109.3 169.6 1110.6 172.7C1111.8 175.9 1112.3 178.4 1113.1 181.5C1113.8 184.7 1114.6 189.9 1114.9 191.6"/>
<path stroke-width="2.8" d="M1116.2 195.4L1117.5 202.9"/>
<path stroke-width="4.9" d="M1118.7 205.4C1119.1 207.7 1120.8 214.8 1121.2 219.2C1121.6 223.6 1121.4 227.5 1121.2 231.7C1121 235.9 1120.3 240.6 1120 244.3C1119.6 248 1119.5 250.2 1119.1 253.8C1118.7 257.5 1118 262.3 1117.5 266.4C1116.9 270.5 1115.9 276.4 1115.6 278.3"/>
<path stroke-width="2.1" d="M1088.7 162.7L1097.8 159.7M1077.7 170.2L1087.7 168.2M1090.8 166.7L1100 164.7"/>
<path stroke-width="1.9" d="M1016.4 193.3C1018.7 192.2 1025.6 188.5 1030.5 186.3C1035.3 184.1 1040.2 182.1 1045.5 180.3C1050.9 178.4 1059.8 176.1 1062.6 175.3"/>
<path stroke-width="2.2" d="M1020.4 195.9C1022.1 194.9 1026.3 192.3 1030.5 190.3C1034.6 188.4 1040.5 186 1045.5 184.3C1050.6 182.6 1058.1 180.9 1060.6 180.3"/>
<path stroke-width="3.2" d="M1061.1 185.3L1062.1 193.8M1062.1 198.4L1062.6 207.4"/>
<path stroke-width="2.5" stroke-dasharray="1.2 1" d="M1063.1 211.4L1063.1 220.5"/>
<path stroke-width="2" d="M1063.1 220.5L1060.6 222.5"/>
<path stroke-width="2.1" d="M1016.3 236.8C1019.9 235.6 1029.9 231.8 1037.7 229.3C1045.4 226.8 1057.2 223.4 1062.8 221.7C1068.5 220.1 1070.1 219.6 1071.6 219.2M1074.1 219.2L1094.2 212.9"/>
<path stroke-width="2.2" d="M1065.3 173.4C1067 173.1 1071.6 172.2 1075.4 171.5C1079.1 170.7 1084.6 169.4 1087.9 169C1091.3 168.6 1094.2 169 1095.5 169"/>
<path stroke-width="1.8" d="M1068.5 175.3L1076.6 173.4"/>
<path stroke-width="2.8" d="M1066.6 175.3C1066.9 177.3 1067.6 182.6 1068.5 187.8C1069.3 193 1070.7 201.4 1071.6 206.7C1072.6 211.9 1073.1 215 1074.1 219.2C1075.2 223.4 1077.1 227.6 1077.9 231.8C1078.7 236 1078.9 242.3 1079.1 244.3"/>
<path stroke-width="1.8" d="M1069.7 177.8C1070.1 180.7 1071.3 188.7 1072.2 195.4C1073.2 202.1 1074.9 214.2 1075.4 218"/>
<path stroke-width="2.5" stroke-dasharray="1.2 1" d="M1077.3 244.4L1077.3 253.8"/>
<path stroke-width="3.2" d="M1076 258.9L1076 266.4M1075.4 271.4L1075.4 280.2"/>
<path stroke-width="2.5" d="M1076.6 180.3C1077.2 177.3 1078.5 176.6 1080.4 175.3C1082.3 173.9 1085.4 172.7 1087.9 172.1C1090.5 171.5 1093.4 171.2 1095.5 171.5C1097.6 171.8 1099.1 172.5 1100.5 174C1101.9 175.5 1103.1 176.7 1103.6 180.3C1104.2 183.8 1104.2 191.2 1103.6 195.4C1103.1 199.5 1102.1 202.7 1100.5 205.4C1098.9 208.1 1097.2 210.1 1094.2 211.7C1091.3 213.3 1085.2 215 1082.9 214.8C1080.6 214.6 1081.3 214.1 1080.4 210.4C1079.5 206.8 1077.9 197.9 1077.3 192.8C1076.6 187.8 1076.1 183.2 1076.6 180.3Z"/>
<path stroke-width="3.5" d="M1096.7 171.7C1097.5 172.2 1099.9 173.1 1101.1 174.6C1102.3 176.2 1103.5 177.4 1104 180.9C1104.5 184.4 1104.5 191.3 1104 195.4C1103.5 199.4 1102.3 202.8 1100.9 205.4C1099.5 208 1096.4 210.1 1095.5 211.1"/>
<path stroke-width="1.6" d="M1079.4 181.5C1079.9 180.8 1080.9 178.4 1082.3 177.1C1083.7 175.9 1087 174.7 1087.9 174.2"/>
<path stroke-width="2.4" d="M1052.1 239.3L1056.5 236.2L1062.8 233L1071.6 232.4L1075.4 235.6L1072.9 238.7L1065.3 242.5L1055.3 243.7L1052.1 242.5Z"/>
<path stroke-width="1.8" d="M1055.3 240.6L1072.9 235.6"/>
<path stroke-width="2.4" d="M1107.5 161.6C1109 161.6 1113.4 160.3 1116.3 161.6C1119.3 162.8 1123.1 166.8 1125.1 169.1C1127.1 171.4 1127.4 173.3 1128.3 175.4C1129.1 177.5 1130.3 180 1130.2 181.7C1130 183.3 1130.3 183.9 1127.6 185.4C1125 187 1116.6 190.1 1114.4 191.1"/>
<path stroke-width="2" d="M1108.8 164.1C1109.4 164.9 1110.2 168.2 1112.6 169.1C1115 170 1121.5 169.6 1123.2 169.7M1112.6 170.6C1113.8 170.6 1118 170 1120.1 170.4C1122.2 170.7 1124.3 172.4 1125.1 172.9M1111.9 171.6C1112.2 173.3 1113.3 178.5 1113.8 181.7C1114.4 184.8 1115.1 189 1115.3 190.5"/>
<path stroke-width="3.6" d="M1081.7 145.5C1084.7 144.6 1092.8 142.1 1100 140.2C1107.2 138.3 1114.9 136.4 1125.1 133.9C1135.4 131.4 1155.5 126.6 1161.6 125.1"/>
<path stroke-width="3.5" d="M1163.4 123.9L1172.9 122"/>
<path stroke-width="2.5" d="M1175.4 120.1C1176.4 119.9 1179.8 118.9 1181.7 118.8C1183.5 118.7 1185.8 119.4 1186.7 119.5M1170.4 127L1178.5 125.8"/>
<path stroke-width="2" d="M1086.2 150.3C1088.5 149.7 1092.5 148.8 1100 146.7C1107.5 144.6 1120.3 140.6 1131.4 137.7C1142.5 134.8 1160.7 130.9 1166.6 129.5"/>
<path stroke-width="2.2" d="M1189.2 121.4C1194.4 123.9 1210.8 131.2 1220.6 136.4C1230.4 141.7 1241.5 148.6 1248.2 152.8C1254.9 157 1257.9 159.5 1260.8 161.6C1263.7 163.7 1265 164.7 1265.8 165.3M1189.2 129.5C1194 132.2 1209.9 141.1 1218.1 145.9C1226.3 150.6 1231.9 154.2 1238.2 157.8C1244.5 161.3 1252.8 165.6 1255.8 167.2M1179.1 122L1187.9 125.8"/>
<path stroke-width="3" stroke-dasharray="1.2 1.2" d="M1220.6 144L1258.3 165.3"/>
<path stroke-width="4" d="M1255.8 162.8L1263.3 167.8"/>
<path stroke-width="3.8" d="M1118.8 204.3C1124.1 202.7 1136.6 198.6 1150.3 194.8C1163.9 191.1 1191.1 184.1 1200.5 181.7C1209.9 179.3 1205.7 180.6 1206.8 180.4M1216.8 178.5C1218.3 178.1 1219.1 177.8 1225.6 176C1232.1 174.2 1250.8 169.2 1255.8 167.8"/>
<path stroke-width="2.5" d="M1208.7 177.3L1213.1 181.7"/>
<path stroke-width="2.2" d="M1130.2 176C1133.5 175.1 1142.9 172.2 1150.3 170.4C1157.6 168.5 1168 165.6 1174.1 164.7C1180.2 163.8 1183.3 163.9 1186.7 164.7C1190 165.5 1190.9 167.8 1194.2 169.7C1197.6 171.6 1204.7 175 1206.8 176M1265.8 165.3C1266.5 166.8 1268.4 171 1269.6 174.1C1270.7 177.3 1272.2 182.5 1272.7 184.2M1270.9 190.5C1271.1 192.1 1272.2 197.8 1272.1 200.5C1272 203.2 1270.5 205.7 1270.2 206.8M1264.6 175.4C1263.9 177.1 1262.1 182.1 1260.8 185.4C1259.5 188.8 1258.2 192.1 1257 195.5C1255.9 198.8 1254.4 203 1253.9 205.5C1253.4 208 1253.4 209.3 1253.9 210.6C1254.4 211.8 1254.8 213.3 1257 213.1C1259.2 212.9 1264.9 210.6 1267.1 209.3C1269.3 208 1269.7 206.2 1270.2 205.5M1267.7 177.9C1267 179.6 1264.9 184.2 1263.3 187.9C1261.7 191.7 1259.5 197.4 1258.3 200.5C1257 203.6 1256.2 205.7 1255.8 206.8"/>
<path stroke-width="3.8" d="M1263.9 175.4L1269 180.4"/>
<path stroke-width="2.2" d="M1268.3 209.3L1274.6 211.8L1274.6 228.1L1270.9 231.9L1257 237.6M1267.1 210.6L1267.7 218.1M1262.7 219.3L1268.3 217.5L1274.6 218.7M1262.7 219.3C1262.4 220.8 1261.7 225.4 1260.8 228.1C1259.9 230.9 1258 234 1257 235.7C1256.1 237.4 1255.5 237.8 1255.2 238.2M1175.4 216.2C1179.6 214.7 1192.1 210.4 1200.5 207.4C1208.9 204.4 1218.9 200.5 1225.6 198C1232.3 195.5 1236.6 193.6 1240.7 192.3C1244.8 191.1 1248.6 190.8 1250.1 190.5M1221.9 231.9C1224.2 230.9 1232.1 227.9 1235.7 225.6C1239.2 223.3 1240.7 221.4 1243.2 218.1C1245.7 214.7 1248.5 209.5 1250.8 205.5C1253.1 201.5 1255 198.4 1257 194.2C1259 190 1261.3 183.5 1262.7 180.4C1264 177.3 1264.8 176.2 1265.2 175.4"/>
<path stroke-width="2.5" d="M1154.6 213.7C1155.2 211.2 1155.2 211.4 1157.8 210.6C1160.4 209.7 1167.6 208.5 1170.4 208.7C1173.1 208.9 1173.3 209.6 1174.1 211.8C1175 214 1175.8 219.6 1175.4 221.9C1175 224.2 1174.3 224.6 1171.6 225.6C1168.9 226.7 1161.9 228.1 1159 228.1C1156.2 228.1 1155.4 228 1154.6 225.6C1153.9 223.2 1154.1 216.2 1154.6 213.7Z"/>
<path stroke-width="2" d="M1157.8 225.6C1158.8 224.6 1161.5 220.7 1164.1 219.3C1166.7 218 1171.9 217.8 1173.5 217.5"/>
<path stroke-width="3.2" d="M1158.2 228C1157.4 230.3 1155.1 238.3 1153.8 241.8C1152.4 245.3 1151.4 246 1150.3 248.8C1149.1 251.7 1147.9 256 1147.1 258.9C1146.3 261.7 1145.5 264.6 1145.2 265.8"/>
<path stroke-width="2.4" d="M1170.7 234.9C1169.6 235.8 1166 238.1 1163.8 240.5C1161.6 242.9 1159.4 246.1 1157.5 249.3C1155.7 252.6 1154 256.4 1152.8 260.1C1151.5 263.8 1151.3 269.1 1150.3 271.4C1149.2 273.7 1147.2 272.7 1146.5 273.9C1145.7 275.2 1145.4 276.9 1145.9 279C1146.3 281.1 1147.4 284.2 1149 286.5C1150.6 288.8 1153.2 291.2 1155.3 292.8C1157.4 294.4 1160.5 295.4 1161.6 295.9"/>
<path stroke-width="2.5" d="M1157.2 268.9C1157.2 270.4 1156.7 274.6 1157.2 277.7C1157.6 280.9 1158.5 284.8 1159.7 287.8C1160.8 290.7 1162.3 293.2 1164.1 295.3C1165.9 297.4 1168 299 1170.4 300.3C1172.7 301.7 1175 303.2 1177.9 303.5C1180.8 303.8 1184.8 303.2 1187.9 302.2C1191.1 301.3 1194 299.8 1196.7 297.8C1199.5 295.8 1202.4 292.4 1204.3 290.3C1206.2 288.2 1207.4 286.1 1208 285.3M1168.5 248.2C1169.6 247.2 1172.6 244.3 1175.4 242.5C1178.2 240.8 1182.1 238.6 1185.4 237.5C1188.8 236.5 1193 236 1195.5 236.3C1198 236.5 1198.4 237.5 1200.5 238.8C1202.6 240 1205.7 242.3 1208 243.8C1210.3 245.3 1213.3 246.9 1214.3 247.6"/>
<path stroke-width="2.2" d="M1173.9 232.4C1175.3 231.8 1179.7 229.7 1182.7 228.6C1185.6 227.6 1190 226.5 1191.5 226.1"/>
<path stroke-width="2.4" d="M1197.7 224.9C1199.2 225 1204 224.8 1206.5 225.5C1209 226.2 1210.9 227.4 1212.8 229.3C1214.7 231.2 1216.5 234.1 1217.8 236.8C1219.2 239.5 1220.1 243.2 1221 245.6C1221.8 248 1222.3 248.4 1222.9 251.3C1223.4 254.1 1223.9 261 1224.1 262.9"/>
<path stroke-width="4.2" d="M1214.1 233C1214.8 235.1 1218 242.9 1218.5 245.6C1218.9 248.3 1216.9 248.7 1216.6 249.4"/>
<path stroke-width="2.2" d="M1183.9 229.3C1185.4 230.1 1189.6 232.4 1192.7 234.3C1195.9 236.2 1199.4 238.7 1202.8 240.6C1206.1 242.5 1210.5 244.1 1212.8 245.6C1215.1 247.1 1215.7 248.1 1216.6 249.4C1217.4 250.6 1217.6 252.5 1217.8 253.1M1168.8 247.5C1169.9 246.6 1172.6 244.1 1175.1 242.5C1177.6 240.8 1181 238.5 1183.9 237.4C1186.9 236.4 1191.2 236.4 1192.7 236.2"/>
<path stroke-width="2.4" d="M1221.9 251.3L1223.7 260.1L1225 272.7L1224.4 280.2L1221.9 282.1L1214.3 276.5L1211.8 275.2L1209.3 282.1"/>
<path stroke-width="2.5" d="M1214.3 255.1L1214.9 260.1"/>
<path stroke-width="3.8" d="M1214.3 261.4L1214.3 269.5"/>
<path stroke-width="2.4" d="M1213.1 247.6C1213.9 248.4 1216.6 252 1218.1 252.6C1219.6 253.2 1221.2 251.5 1221.9 251.3"/>
<path stroke-width="2.5" d="M1196.7 252.6C1195.5 252.3 1191.9 250.7 1189.2 250.7C1186.5 250.7 1183.1 251 1180.4 252.6C1177.7 254.2 1174.9 256.8 1172.9 260.1C1170.9 263.5 1168.9 268.9 1168.5 272.7C1168 276.5 1169.2 280.1 1170.4 282.7C1171.5 285.4 1173.5 287.3 1175.4 288.4C1177.3 289.5 1179.4 289.6 1181.7 289.3C1184 289 1186.9 287.6 1189.2 286.5C1191.5 285.4 1194.4 283.4 1195.5 282.7M1197 252.8L1202.4 258.2"/>
<path stroke-width="3.8" d="M1202.4 263.3L1202.4 271.4"/>
<path stroke-width="2.5" d="M1200.5 275.2L1195.7 282.5"/>
<path stroke-width="2.2" d="M1223.7 251.3C1226.2 250.2 1232.9 246.8 1238.2 244.4C1243.5 242 1251.4 238.5 1255.8 236.9C1260.2 235.3 1263.1 235.3 1264.6 235M987.8 286.6C988.8 287.4 991.4 289.9 993.5 291.6C995.5 293.2 998.9 295.6 1000 296.4M1000 297.2C1001 297.1 1002.1 297.6 1006.3 296.6C1010.5 295.5 1017.8 293 1025.1 290.9C1032.5 288.8 1044 285.8 1050.3 284C1056.5 282.2 1060.7 280.9 1062.8 280.2M1066.6 279.2L1072.9 278.3M1076.6 276.5C1080.6 275.2 1094.1 270.9 1100.5 268.9C1106.9 266.9 1112.5 265.3 1114.9 264.5M1120.6 262L1144.5 257.6M1117.5 278.3C1119.9 277.7 1127 275.5 1131.9 274.6C1136.8 273.6 1143.9 273.2 1147 272.7C1150 272.2 1149.6 271.6 1150.1 271.4M988.4 309.2L1000 306.7M1000 307.9L1006.3 306M1009.4 304.7L1018.8 302.2M1022.6 301L1031.4 299.1M1034.5 297.8C1040.9 295.9 1064 288.9 1072.9 286.5C1081.8 284.1 1081.7 284.5 1087.9 283.4C1094.2 282.2 1106.8 280.2 1110.6 279.6M982.2 318.6C983.6 317.9 988 315.3 991 314.2C993.9 313 998.5 312.1 1000 311.7M1000 311.6C1006.3 309.7 1026 303.9 1037.7 300.3C1049.4 296.8 1064.9 292 1070.4 290.3M1077.9 289L1086.7 287.1M1090.5 286.5L1095.5 285.3M1000 316.7C1006.3 314.9 1027.6 309 1037.7 306C1047.7 302.9 1056.5 299.7 1060.3 298.4M1065.3 294L1075.4 292.2M1080.4 294.7L1089.2 293.4M1000 321.1C1006.3 319.2 1025.1 313.7 1037.7 309.7C1050.3 305.8 1069.1 299.3 1075.4 297.2M1071.6 302.8L1082.9 301M1085.4 298.4L1094.2 297.2M983.4 329.3L1000 325.5M1000 326.1C1006.3 324 1027.2 316.3 1037.7 313.5C1048.2 310.7 1058.6 309.9 1062.8 309.1M1066.6 307.9C1068 307.6 1071.4 307.1 1075.4 306C1079.4 304.8 1085.2 302.5 1090.5 301C1095.7 299.4 1103 297.7 1106.8 296.6C1110.6 295.4 1111.6 295.1 1113.1 294C1114.5 293 1115.4 292 1115.6 290.3C1115.8 288.6 1115.2 285.6 1114.3 284C1113.5 282.4 1111.2 281.4 1110.6 280.9M1101.8 285.3C1102.4 285.3 1104.7 284.4 1105.5 285.3C1106.4 286.1 1107 288.8 1106.8 290.3C1106.6 291.7 1104.7 293.4 1104.3 294M1093 292.2C1094 291.6 1098 289.8 1099.2 289C1100.5 288.3 1100.3 288 1100.5 287.8"/>
<path stroke-width="2.5" d="M912.7 338.1C912.7 336.7 912.5 333 913.1 329.7C913.7 326.4 914.8 321.8 916.2 318.2C917.6 314.7 919.6 311.3 921.5 308.5C923.4 305.7 926.2 303 927.7 301.5C929.1 299.9 929.9 299.6 930.3 299.3"/>
<path stroke-width="2.2" d="M915.3 292.6L927.7 301"/>
<path stroke-width="2.4" d="M932.5 296.6C934.4 296.2 939.8 295 943.5 294C947.3 292.9 953.1 291 955 290.4M946.2 294C947.7 294.3 952.5 295.1 955 296.2C957.5 297.3 959 299 961.2 300.6C963.4 302.2 966.3 304.1 968.3 305.9C970.2 307.7 971.9 310.3 972.7 311.2"/>
<path stroke-width="3" d="M963 290.4C964.4 291 969.4 292 971.8 293.5C974.1 295.1 975.6 297.4 977.1 299.7C978.6 302.1 979.8 305 980.6 307.7C981.4 310.3 981.7 314.3 981.9 315.6"/>
<path stroke-width="4" d="M972.2 306.8C972.7 306.9 974.1 306.6 974.9 307.7C975.7 308.7 976.7 312.1 977.1 312.9"/>
<path stroke-width="2.4" d="M973.6 314.7C973.9 315.3 974.3 317.5 975.3 318.2C976.4 319 978.6 319.4 979.7 319.1C980.9 318.8 981.9 316.9 982.4 316.5"/>
<path stroke-width="3.8" d="M975.1 324.4L975.5 331.5"/>
<path stroke-width="2.4" d="M973.6 332.8L980.6 335.5L983.3 334.1L982.8 320"/>
<path stroke-width="2.5" d="M929.4 311.2C930.8 310.2 934.4 306.7 937.4 305C940.3 303.3 943.8 301.7 947.1 301C950.3 300.4 953.8 300.5 956.8 301C959.7 301.5 962.5 302.7 964.7 304.1C966.9 305.5 968.7 307.5 970 309.4C971.4 311.3 972.2 314.6 972.7 315.6"/>
<path stroke-width="2.8" d="M974 337.7L971.4 345.6"/>
<path stroke-width="2.5" d="M968.3 348.7C967.4 349.9 965.2 353.9 963 356.2C960.8 358.5 957.8 360.6 955 362.4C952.2 364.1 949.3 365.9 946.2 366.8C943.1 367.7 939.3 368 936.5 367.7C933.7 367.4 931.9 366.3 929.4 365C926.9 363.7 923.8 361.6 921.5 359.7C919.1 357.8 917.2 355.8 915.3 353.5C913.4 351.3 911.6 348.9 910 346.5C908.4 344.1 906.3 340.2 905.6 339"/>
<path stroke-width="3.2" d="M918.4 331.5C918.2 332.8 917 336.3 917.1 339.4C917.1 342.5 918 346.9 918.8 350C919.7 353.1 921 355.9 922.4 358C923.7 360 926 361.6 926.8 362.4"/>
<path stroke-width="2.5" d="M955 313.4C953.7 313.5 949.6 313.2 947.1 313.8C944.6 314.5 942.2 315.6 940 317.4C937.8 319.1 935.5 321.9 933.8 324.4C932.1 326.9 930.7 329.9 929.9 332.4C929.1 334.9 928.6 336.9 929 339.4C929.4 341.9 930.7 345.3 932.1 347.4C933.5 349.4 935.5 350.8 937.4 351.8C939.3 352.7 941.3 353.4 943.5 353.1C945.8 352.8 948.4 351.4 950.6 350C952.8 348.6 955 346.4 956.8 344.7C958.6 343 960.5 340.7 961.2 339.9"/>
<path stroke-width="2.8" d="M956.8 315.6L963 321.8"/>
<path stroke-width="3.8" d="M963.4 327.5L963.4 335"/>
<!--/TRUCK2-->
<!--PARTS-->
<g id="sw"><path stroke="none" fill="#000" d="M109.1 471.6L111.9 468.2L119.5 468.2L120.7 469.1L124.5 468.2L127 468.2L127 469.8L124.2 471.6L124.8 474.5L127 477L130.2 477.9L130.2 480.1L126.4 480.8L118.8 482L116 479.8L114.4 477.6L113.5 474.5L112.6 471.5ZM111.3 483.3L115.1 481.4L118.8 481.9L130.2 479.8L130.2 475.7L130.8 470.7L132.7 468.5L144 465.4L149 464.4L152.8 464.1L169.1 473.2L174.7 477.3L174.7 483.3L182.9 487.3L182.9 495.2L165.3 500.2L169.1 503.4L174.1 505.9L176.6 505.3L176.6 506.5L172.9 508.7L165.3 508.7L160.3 507.8L159 509.6L156.5 509.6L153.4 505.9L150.3 506.5L149.6 509L144.6 510.6L137.1 510.6L111.3 495.5Z"/>
<path stroke="none" fill="#fff" d="M140.2 471.3L153.4 467.2L166.9 474.5L152.4 478.9Z"/>
<path stroke="none" fill="#000" d="M145.2 472.1L153.4 469.6L159.7 471.8L152.1 475.2Z"/>
<path stroke="none" fill="#fff" d="M151.8 471.5L156.5 470.8L156.8 472.9L152.8 473.8ZM137.1 473.2L150.9 479.2L150.9 487.7L144 484.5L137.7 480.1ZM159 479.5L165.3 477L167.2 479.2L159 480.9ZM158.4 484.5L172.2 480.8L172.2 487L158.4 490.8ZM154 483.3L155.9 483.3L155.9 489.5L154 489.5ZM114.1 484.4L129.5 480.1L124.5 484.2L124.5 486.4L137.7 494.9L147.1 495.5L156.8 493L156.8 495.2L146.2 499L137.7 498.5L117.9 485.5ZM158.4 492.7L172.9 492.1L172.2 495.2L165.3 498.3L158.4 496.5ZM172.2 489.2L177.6 485.8L180.4 488.3ZM118.8 490.2L121.4 489.9L133.9 497.7L133.9 500.5L131.7 500.2L118.8 492.7ZM117 495.2L118.5 494.9L122 497.4L122 499L120.4 499ZM127.6 502.1L129.5 501.8L134.9 504.9L134.9 506L133.3 506ZM113.8 487.3L116.5 487.7L116 491.1L113.8 490.8ZM137.4 499.7L140.8 499.7L140.8 503.4L139.6 505.3L140.2 509L137.7 509ZM143.3 499.9L145.2 499.9L145.2 505.3L143.3 505.3ZM141.5 507.4L147.1 506.8L147.1 508.4L141.8 509ZM133.9 471.6L135.2 471.5L134.9 478.9L133.6 478.6ZM169.1 475.7L171 476.7L170.7 477.9L169.1 477Z"/>
<path stroke="none" fill="#000" d="M130.8 484.5L132.7 484.5L132.7 486.4L130.8 486.4Z"/>
<path stroke="none" fill="#fff" d="M144 488.3L147.1 488.3L152.1 491.1L152.1 492.1L147.7 491.7ZM136.4 485.8L139.6 485.8L139.6 487L136.4 487ZM137.7 488.9L140.2 488.9L140.2 490.2L137.7 490.2ZM152.1 502.1L154 501.8L154.6 503.7L152.8 504ZM156.5 504.6L159.7 505.9L159.4 507.1L156.8 506.2ZM162.8 501.5L166.6 504.6L165.6 505.3L162.2 502.4Z"/></g>
<use href="#sw" transform="translate(1071 11)"/>
<g id="bulb"><path stroke="none" fill="#000" d="M128 548.1L132.7 548.1L133.1 546.9L135 546.9L135.3 547.9L140.7 547.9L141.3 549L142.9 549L143.6 550L148 550L148.7 551.6L148.7 553.5L149.9 554.1L149.9 555.7L152.8 558.6L153.1 560.2L154.1 560.5L153.8 562.7L152.8 563.8L145.5 563.8L144.8 562.9L142.3 562.9L141 560.8L139.1 560.8L138.2 559.8L137.2 559.8L135.3 558.7L133.4 557.8L132.1 557L131.1 554.7L130.2 552.8L129.9 550.8L128 550.8Z"/>
<path stroke="none" fill="#fff" d="M137.2 550L139.7 550L141.3 551.9L142.9 551.9L143.9 553.2L143.9 556L141.3 556L139.7 557.9L138.2 557.9L136.9 557L135 555.7L135 552.2ZM145 556L146.8 556L151.2 560.5L151.2 561.1L147.1 561.1L147.1 558.6L145 557.9ZM131.9 550.3L133.7 549L134 549.6L132.4 550.9Z"/></g>
<use href="#bulb" transform="translate(1071 11.8)"/>
<g id="lamp"><path stroke-width="2.6" d="M90.1 617.7C88.4 618.3 82.4 619.7 80.1 621.2C77.7 622.7 76.4 625 76.2 626.7C76.1 628.4 76.7 629.1 79 631.2C81.4 633.3 84.9 635.9 90.1 639.3C95.3 642.6 103.5 647.5 110.2 651.3C116.9 655.2 123.6 658.9 130.3 662.4C137 665.9 145.4 670.1 150.4 672.4C155.4 674.8 157.8 675.6 160.5 676.5C163.1 677.3 164 677.7 166.5 677.5C169 677.2 170.7 676.5 175.5 675C180.4 673.5 188.9 670.4 195.6 668.4C202.3 666.5 211 664.9 215.7 663.4C220.4 661.9 221.8 660.3 223.8 659.4C225.7 658.5 226.7 658.1 227.3 657.9"/>
<path stroke-width="1.9" d="M85.1 622.7C84.4 623.1 81.1 624 81.1 625.2C81.1 626.5 81.9 627.8 85.1 630.2C88.3 632.7 95.1 636.8 100.2 639.8C105.2 642.8 110.2 645.6 115.2 648.3C120.3 651.1 124.4 653.4 130.3 656.4C136.2 659.4 145.4 664.1 150.4 666.4C155.4 668.8 157.1 669.6 160.5 670.4C163.8 671.3 166.3 671.9 170.5 671.4C174.7 670.9 179.7 669.1 185.6 667.4C191.4 665.7 200 663.1 205.7 661.4C211.4 659.7 217.4 658 219.7 657.4"/>
<path stroke-width="2.6" d="M87.1 626.2C89.3 627.6 95.3 631.2 100.2 634.3C105 637.3 113.2 642.8 116.2 644.3C119.2 645.8 117.2 643.3 118.2 643.3C119.2 643.3 121.6 643.6 122.3 644.3C122.9 645 117.6 644.3 122.3 647.3C127 650.3 144 659.1 150.4 662.4C156.8 665.7 157.1 666.2 160.5 666.9C163.8 667.6 163.1 668.3 170.5 666.4C177.9 664.5 198 657.5 204.7 655.4C211.4 653.2 209.7 653.7 210.7 653.4"/>
<path stroke-width="2.2" stroke-dasharray="1 1" d="M92.1 637.8L114.2 650.3"/>
<path stroke-width="1.8" stroke-dasharray="2 1.2" d="M185.6 671.4L218.7 662.4"/>
<path stroke-width="1.5" d="M118.2 648.3L150.4 666.9"/>
<path stroke="none" fill="#000" d="M214.7 644.3L217.7 647.3L222.8 653.4L227.8 657.9L223.8 659.9L219.7 657.9L218.7 652.3Z"/>
<path stroke-width="2.2" d="M87.6 610.1L91.6 606.6L96.6 604.6L97.1 608.1L99.1 605.6L105.7 604.6L106.7 609.1L117.2 607.1L117.2 601.1L128.3 598.6L134.3 591.5L138.3 590.5L143.4 591.5L146.4 597.1L147.4 603.1L147.9 606.6L151.4 607.1L154.4 609.6L159.4 612.1L166.5 611.6L170.5 613.2L193.6 627.2L196.1 629.2L196.1 632.2L200.7 635.3"/>
<path stroke-width="2.4" d="M200.7 639.3C200.8 638.6 201 636.4 201.7 635.3C202.3 634.2 203.7 633.3 204.7 632.7C205.7 632.2 206.5 631.8 207.7 632.2C208.9 632.7 210.7 633.8 211.7 635.3C212.7 636.8 213.2 639.8 213.7 641.3C214.2 642.8 214.6 643.8 214.7 644.3"/>
<path stroke-width="2" d="M203.7 642.3C203.8 641.4 203.8 637.9 204.7 636.8C205.5 635.6 207.7 635 208.7 635.5C209.7 635.9 210.4 637.6 210.7 639.3C211 640.9 210.7 644.3 210.7 645.3"/>
<path stroke-width="2.2" d="M87.6 610.1L91.1 612.1L91.6 622.2"/>
<path stroke-width="2.6" d="M96.9 608.1L96.3 620.2"/>
<path stroke-width="2.4" d="M99.3 606.3L99.7 618.2L102.2 621.7"/>
<path stroke-width="2.2" d="M100.2 613.2L108.2 621.2L117.2 620.4L117.8 608.1M104.2 609.3L114.2 620.4"/>
<path stroke-width="1.8" stroke-dasharray="1 1" d="M90.6 613.2L90.6 623.2"/>
<path stroke-width="2.4" d="M118.2 602.1L119.2 623.2L119.2 630.2"/>
<path stroke-width="2.4" stroke-dasharray="1.2 0.8" d="M124.3 603.1L123.3 627.2"/>
<path stroke-width="2.6" d="M128.5 599.1L129.5 621.2"/>
<path stroke-width="1.8" d="M131.3 601.3L134.5 601.1L134.5 604.3L131.3 604.7Z"/>
<path stroke-width="2.2" d="M132.3 595.1L136.3 593.6L139.3 600.1L139.3 606.1L136.3 607.1M139.3 594.1C139.8 594.4 141.5 594.7 142.4 596.1C143.2 597.4 144 600.3 144.4 602.1C144.8 603.9 144.8 606.3 144.9 607.1M133.3 610.1L140.4 609.1L140.4 613.2L146.4 612.1L150.4 611.1L150.4 614.2L144.4 616.2L134.3 616.2Z"/>
<path stroke-width="2.4" stroke-dasharray="1.2 0.8" d="M158.4 614.2L158.4 623.2M144.9 622.2L144.9 628.2"/>
<path stroke-width="2.2" stroke-dasharray="1.2 0.8" d="M101.2 623.2L101.2 628.2"/>
<path stroke-width="2" d="M117.2 632.2L119.2 627.2L125.3 626.2L144.4 620.7"/>
<path stroke-width="2.2" d="M125.3 626.2L126.3 628.2L132.3 630.2L134.3 635.3L140.4 637.8L146.4 641.3L150.4 641.3L170.5 635.3L172.5 634.8"/>
<path stroke-width="1.8" d="M170.5 613.2L193.6 627.2L184.6 630.2L184.6 632.2"/>
<path stroke-width="2.2" d="M120.3 627.7L134.3 637.3L135.3 639.3L145.4 647.3L151.4 649.8"/>
<path stroke-width="2" d="M120.3 627.7L120.3 632.2L133.3 639.3"/>
<path stroke-width="2.6" d="M91.1 626.2L118.2 642.3"/>
<path stroke="none" fill="#000" d="M155.4 643.3L164.5 641.3L170.5 643.3L171.5 653.4L160.5 659.4L155.4 653.4Z"/>
<path stroke="none" fill="#fff" d="M157.4 648.3L160.5 647.3L159.4 653.4L157.4 653.4ZM163.5 652.3L166.5 651.3L165.5 655.4L163 655.9Z"/>
<path stroke-width="3.3" d="M172.7 635.3L173.7 652.3M177.7 634.3L178.7 651.3M184.6 631.2L183.6 653.4"/>
<path stroke-width="1.3" stroke-dasharray="0.8 0.8" d="M175 643.3L177.5 643.3"/>
<path stroke-width="1.8" stroke-dasharray="1 1" d="M180.6 637.3L180.6 649.3"/>
<path stroke-width="2" d="M184.6 632.2C185.6 631.9 189.1 630.7 190.6 630.2C192.1 629.7 193.1 629.4 193.6 629.2"/>
<path stroke-width="2.2" d="M189.6 649.3L194.6 649.8L195.6 645.8L204.7 645.3L205.7 648.3"/>
<path stroke-width="2" d="M188.6 653.4L205.7 652.3"/>
<path stroke-width="2.6" d="M145.4 648.3L146.4 659.4L150.4 660.4L154.4 655.4L160.5 661.4L166.5 657.4L170.5 655.4"/>
<path stroke-width="2.2" d="M151.4 662.4C152.9 662.6 157.3 663.7 160.5 663.4C163.6 663.1 166.6 661.6 170.5 660.4C174.4 659.2 177.7 657.5 183.6 656.4C189.4 655.2 201.2 654 205.7 653.4C210.2 652.7 209.9 652.5 210.7 652.3"/>
<path stroke-width="2" d="M174.5 653.4L174.5 657.4L183.6 655.4L183.6 652.3"/></g>
<use href="#lamp" transform="translate(1071 11)"/>
<g id="con"><path stroke-width="2" d="M687.2 572.8L690.2 566.3L694.2 558.2L698.2 555.7L706.3 551.7L712.8 549.7L718.3 550.7L723.4 553.2M723.4 553.2C724.2 552.8 725.9 552.2 728.4 550.7C730.9 549.2 735.4 545.8 738.4 544.2C741.5 542.6 745.1 541.6 746.5 541.1"/>
<path stroke-width="2.6" d="M697.2 558.7C699.4 560 704.8 563 710.3 566.3C715.8 569.5 723.7 574.2 730.4 578.3C737.1 582.4 745.1 587.7 750.5 590.9C755.9 594 758.5 595.2 762.6 597.2C766.6 599.2 772.6 602 774.6 603"/>
<path stroke-width="2" d="M723.4 553.2C726.2 554.9 734.3 559.6 740.5 563.3C746.6 566.9 753.9 571.1 760.6 575.3C767.3 579.5 774.8 584.7 780.7 588.4C786.5 592.1 792 595.2 795.7 597.4C799.4 599.6 801.6 600.8 802.8 601.4"/>
<path stroke-width="2.4" d="M687.2 572.8C688.2 573.1 689.4 572.7 693.2 574.8C697.1 576.9 704.1 581.6 710.3 585.4C716.5 589.1 723.7 593.6 730.4 597.4C737.1 601.3 745.5 605.8 750.5 608.5C755.5 611.2 758.9 612.7 760.6 613.5"/>
<path stroke-width="2.2" d="M672.1 581.3C672.6 579.7 674.3 578.4 676.1 577.3C678 576.2 680.8 575 683.2 574.8C685.5 574.6 688.5 575.1 690.2 576.3C691.9 577.6 693.2 580.3 693.2 582.4C693.2 584.4 691.7 586.7 690.2 588.4C688.7 590.1 686.3 591.9 684.2 592.4C682 592.9 679 592.2 677.1 591.4C675.3 590.6 674 589.1 673.1 587.4C672.3 585.7 671.6 583 672.1 581.3Z"/>
<path stroke-width="1.8" d="M675.1 582.4C676 582.6 678 583.7 680.2 583.6C682.3 583.4 686.9 581.7 688.2 581.3"/>
<path stroke="none" fill="#000" d="M678.6 577.8L684.7 576.8L685.7 579.3L680.2 580.8Z"/>
<path stroke-width="3" d="M671.6 581.3L673.6 592.4"/>
<path stroke-width="2" d="M673.6 592.4C672.7 592.9 669.5 594.4 668.1 595.4C666.7 596.4 665.4 597.2 665.1 598.4C664.7 599.7 665.9 602.2 666.1 603"/>
<path stroke="none" fill="#000" d="M667.6 599.6L673.6 601.6L677.1 606.1L678.6 616.2L674.1 617.2L670.1 612.2Z"/>
<path stroke-width="2" d="M665.1 603.6C664.2 604.5 660.1 607.1 659.5 608.6C659 610.2 659.5 610.9 662.1 613.2C664.7 615.4 670.4 619.2 675.1 622.2C679.8 625.2 685.2 628.2 690.2 631.3C695.2 634.3 700.3 637.3 705.3 640.3C710.3 643.3 715.3 646.5 720.4 649.3C725.4 652.2 731.4 655.4 735.4 657.4C739.4 659.4 741.3 660.8 744.5 661.4C747.7 662 751.8 661.4 754.5 660.9C757.2 660.4 756.2 660.5 760.6 658.4C764.9 656.3 774.8 651.4 780.7 648.3C786.5 645.3 790.8 642.8 795.7 640.3C800.6 637.8 807.6 634.4 810 633.3"/>
<path stroke-width="1.8" d="M666.1 605.6C665.5 606.2 662.9 608.1 662.6 609.1C662.2 610.2 661.8 609.9 664.1 611.7C666.3 613.4 671.4 616.8 676.1 619.7C680.8 622.6 687.2 626.3 692.2 629.2C697.2 632.2 701.6 634.6 706.3 637.3C711 640 716.3 643.3 720.4 645.3C724.4 647.3 728.7 648.7 730.4 649.3M731.4 650.4C732.9 651 737.9 653.4 740.5 654.4C743 655.4 743.8 656.2 746.5 656.4C749.2 656.5 754.2 655.7 756.5 655.4C758.9 655 756.7 656.2 760.6 654.4C764.4 652.5 773.8 647.4 779.6 644.3C785.5 641.2 790.7 638.5 795.7 635.8C800.8 633 807.6 629.1 810 627.7"/>
<path stroke-width="2.6" d="M668.1 597.6C670.1 598.8 674.8 601.4 680.2 604.6C685.5 607.9 693.6 613.2 700.3 617.2C707 621.1 714.8 625.1 720.4 628.2C725.9 631.3 729.6 633.7 733.4 635.8C737.3 637.9 741.8 640 743.5 640.8"/>
<path stroke-width="1.4" d="M678.6 606.6C681.4 608.3 689.3 613.2 695.2 616.7C701.2 620.1 708.3 623.9 714.3 627.2C720.4 630.6 728.6 635.2 731.4 636.8"/>
<path stroke="none" fill="#000" d="M732.4 638.3L736.4 636.8L740.5 641.3L738.4 644.3L741 652.4L734.4 652.4L730.4 645.3Z"/>
<path stroke-width="2" d="M740.5 640.8L744 641.3M795.7 598.6C794.1 599 788.9 599.8 785.7 601.1C782.5 602.4 778.6 604.1 776.6 606.1C774.6 608.1 774.6 610.8 773.6 613.2C772.6 615.5 772.8 617.4 770.6 620.2C768.4 623 763.9 627.1 760.6 630.3C757.2 633.4 752.7 637.5 750.5 639.3C748.3 641.1 748 640.6 747.5 640.8"/>
<path stroke-width="2.6" d="M796.3 598.6C797.1 599.3 800 601.4 801.3 603.1C802.6 604.9 803.3 606.6 804.3 609.1C805.3 611.7 806.3 615.5 807.3 618.2C808.3 620.9 809.8 624.1 810.4 625.2"/>
<path stroke-width="2" d="M767.1 580C769.3 581.5 775.3 585.9 780.2 589C785.1 592.1 793.6 597 796.3 598.6"/>
<path stroke-width="2.4" d="M740.5 618.2L741 624.2L743.5 634.3L746.5 635.3L749.5 632.3L748.5 626.2L750.5 622.2L756.5 619.2L763.6 617.7L759.5 613.2L750.5 611.2L743.5 614.2Z"/>
<path stroke="none" fill="#000" d="M746 616.7L754.5 615.2L757.5 618.2L751.5 619.7L750.5 623.2L746.5 624.2L749 620.2ZM744 627.2L748 625.2L749 632.3L746 634.8L743.5 633.3Z"/>
<path stroke-width="3" d="M747.5 640.8C748 641 749.3 640.2 750.5 641.8C751.7 643.4 753.2 648.3 754.5 650.4C755.9 652.4 757.9 653.7 758.5 654.4"/>
<path stroke-width="3.6" d="M768.6 627.2C769.3 628.1 771.4 630.1 772.6 632.3C773.8 634.4 774.8 638.1 775.6 640.3C776.5 642.5 777.3 644.5 777.6 645.3"/>
<ellipse cx="763.1" cy="646.3" rx="3" ry="3" transform="rotate(0 763.1 646.3)" stroke-width="3"/>
<path stroke="none" fill="#000" d="M760.1 646.3L763.1 643.3L766.1 646.3L763.1 649.3Z"/>
<path stroke-width="1.8" d="M758.5 654.4C758.9 654 758.5 653.5 760.6 652.4C762.6 651.2 767.6 648.7 770.6 647.3C773.6 646 777.3 644.8 778.6 644.3"/>
<path stroke-width="2" d="M809.9 633.3C811.7 632.3 815.3 630.3 820.4 627.2C825.5 624.2 834.6 618.9 840.5 615.2C846.4 611.5 851.4 608 855.6 605.1C859.8 602.3 862.9 600.3 865.6 598.1C868.3 595.9 870.2 594.1 871.7 592.1C873.1 590.1 873.8 588 874.2 586C874.6 584 874.2 581 874.2 580"/>
<path stroke-width="1.8" d="M810.4 627.2C811.4 626.4 813 624.1 816.4 622.2C819.7 620.4 825.6 618.7 830.5 616.2C835.3 613.7 840.8 610 845.5 607.1C850.2 604.3 855.1 601.4 858.6 599.1C862.1 596.8 864.6 595.2 866.6 593.1C868.6 590.9 870 588.2 870.7 586C871.3 583.9 870.7 581 870.7 580M815.4 620.2C817.9 618.7 824.8 614.5 830.5 611.2C836.1 607.8 846.4 601.9 849.5 600.1"/>
<path stroke-width="2.2" d="M802.3 600.1L805.3 607.1L814.4 605.1L816.4 610.2L814.4 613.2L809.3 616.2L812.4 620.2L816.4 622.2"/>
<path stroke="none" fill="#000" d="M814.4 611.2L820.4 612.2L818.4 616.2L813.4 617.7Z"/>
<path stroke-width="2.2" d="M800.3 538.6C802 538.8 807 539.1 810.4 539.6C813.7 540.1 817.1 540.8 820.4 541.6C823.8 542.5 827.1 543.3 830.5 544.7C833.8 546 837.2 547.9 840.5 549.7C843.9 551.4 847.5 553.3 850.6 555.2C853.6 557.1 856.1 559.1 858.6 561.2C861.1 563.4 863.6 565.9 865.6 568.3C867.6 570.6 869.3 573 870.7 575.3C872 577.7 873.1 580.2 873.7 582.4C874.3 584.5 874.1 587.4 874.2 588.4"/>
<path stroke-width="1.8" d="M808.3 542.2C810.4 542.7 816.7 544 820.4 545.2C824.1 546.3 827.1 547.7 830.5 549.2C833.8 550.7 836.5 552.3 840.5 554.2C844.5 556.1 852.2 559.7 854.6 560.7M859.6 566.3C860.8 567.6 864.8 571.6 866.6 574.3C868.5 577 870 579.8 870.7 582.4C871.3 584.9 870.7 588.2 870.7 589.4"/>
<path stroke-width="2.4" d="M746.5 541.1L746.5 537.6L750.5 535.6L756.5 533.1L757.5 530.1L763.6 526.1L770.6 522.1L787.7 522.1L790.7 525.1L794.7 525.6L797.7 528.6L797.7 532.1L800.8 536.1L802.8 538.9"/>
<ellipse cx="774.6" cy="529.1" rx="8.5" ry="5.2" transform="rotate(-10 774.6 529.1)" stroke-width="3"/>
<path stroke-width="1.8" d="M770.6 527.1C771.4 526.7 774.1 525.1 775.6 525.1C777.1 525.1 779.3 526.2 779.6 527.1C780 527.9 778 529.6 777.6 530.1"/>
<ellipse cx="759.5" cy="542.2" rx="10.1" ry="4.6" transform="rotate(-25 759.5 542.2)" stroke-width="3.4"/>
<ellipse cx="759" cy="542.4" rx="6" ry="2.2" transform="rotate(-25 759 542.4)" stroke-width="1.4"/>
<ellipse cx="771.1" cy="548.2" rx="3.6" ry="2.8" transform="rotate(-20 771.1 548.2)" stroke-width="3"/>
<path stroke-width="3.4" d="M765.6 535.1C766.4 535.6 769.8 536.6 770.6 538.1C771.4 539.6 770.6 543.2 770.6 544.2"/>
<path stroke-width="2" d="M777.6 539.6L783.7 542.2L794.7 532.1L790.7 528.1M783.7 542.2L787.7 544.2L797.7 536.1"/>
<path stroke-width="1.6" d="M784.7 541.1L793.7 533.6"/>
<path stroke-width="2.2" d="M777.2 539.6C779.4 540.9 785.7 544.6 790.3 547.2C794.8 549.8 801 553.4 804.3 555.2C807.7 557.1 807.3 557.2 810.4 558.2C813.4 559.2 820.4 560.7 822.4 561.2"/>
<path stroke-width="1.6" d="M789.2 544.2C791.4 545.5 799.5 550.4 802.3 552.2C805.2 554 805.7 554.7 806.3 555.2"/>
<path stroke-width="2.2" d="M800.3 536.1L804.3 545.2L808.3 552.2L812.4 554.2L819.4 555.2L827.4 549.7L832.5 549.7L840.5 554.2"/>
<path stroke-width="1.6" d="M802.3 541.1L804.3 545.2L801.8 544.2Z"/>
<path stroke-width="2.4" d="M823.4 555.2L829.4 550.7L838 556.2L831.5 560.2ZM830.5 552.2L830.5 556.2"/>
<path stroke="none" fill="#000" d="M745.5 559.2L750.5 556.7L756.5 556.2L754.5 560.2L751.5 562.3L746.5 561.2Z"/>
<path stroke-width="3.2" d="M751.5 564.3L762.6 556.2L773.6 563.3L762.6 571.3Z"/>
<path stroke-width="2" d="M759.5 563.3L764.6 561.2L765.6 564.3L760.6 566.3Z"/>
<path stroke="none" fill="#000" d="M783.7 564.3C784.7 563.3 788.9 561.4 790.7 561.2C792.5 561.1 794.7 562.3 794.7 563.3C794.7 564.3 792.4 566.6 790.7 567.3C789 567.9 785.8 567.8 784.7 567.3C783.5 566.8 782.7 565.3 783.7 564.3ZM737.4 574.3C737.8 573.3 740.8 572.4 742.5 572.3C744.1 572.2 746.8 573 747.5 573.8C748.2 574.6 747.7 576.6 746.5 577.3C745.3 578.1 742 578.8 740.5 578.3C738.9 577.8 737.1 575.3 737.4 574.3ZM798.8 559.2C799.3 558.5 803.6 557.6 805.3 557.7C807.1 557.9 809.8 559.5 809.3 560.2C808.8 561 804.1 562.4 802.3 562.3C800.6 562.1 798.3 560 798.8 559.2Z"/>
<ellipse cx="808.3" cy="568.3" rx="10.1" ry="4.2" transform="rotate(-25 808.3 568.3)" stroke-width="4"/>
<path stroke-width="2" d="M802.3 570.8L814.4 565.5"/>
<path stroke-width="3.2" d="M810.4 576.3C811.4 575.7 813.9 573.2 816.4 572.3C818.9 571.4 822.6 570.6 825.4 570.8C828.3 571 832.1 572.9 833.5 573.3"/>
<path stroke-width="2.6" d="M818.4 578.3C819.6 577.3 823.4 574.6 825.4 574.3C827.4 574 829.9 575.3 830.5 576.3C831 577.3 829.8 579.3 828.4 580.3C827.1 581.3 824.1 582.4 822.4 582.4C820.7 582.4 819.1 581 818.4 580.3C817.7 579.7 817.2 579.3 818.4 578.3Z"/>
<path stroke-width="2.2" d="M791.3 591.4L794.3 586.4L796.3 584.4L805.3 580.3L816.4 572.3"/>
<path stroke-width="2.4" d="M796.3 586.9L804.3 589.4L816.4 581.3L819.4 585.9L806.3 592.4L804.3 590.4"/>
<path stroke="none" fill="#000" d="M818.4 582.4L830.5 582.4L836.5 576.3L840.5 578.3L835.5 588.4L828.4 595.4L822.4 597.4L820.4 590.4Z"/>
<path stroke-width="2.8" d="M804.3 591.4L810.4 599.4L812.4 600.4L823.4 593.4"/>
<path stroke-width="2.4" d="M801.8 591.4L803.3 597.4L805.3 602.5L810.4 601.4"/>
<path stroke-width="2.6" d="M840.5 568.3C842.2 567.6 848 564.9 850.6 564.3C853.1 563.6 854.7 564.3 855.6 564.3M843.5 580.3L855.6 572.3M840.5 582.4L843.5 586.4L848.5 588.4L850.6 600.4M855.6 564.3L856.6 570.3"/>
<path stroke-width="3" d="M860.6 566.3C861.4 567.6 864.6 571.6 865.6 574.3C866.6 577 866.5 581 866.6 582.4"/>
<path stroke-width="2.4" d="M858.6 574.3L860.6 582.4"/>
<path stroke-width="2.8" d="M849.5 590.4L855.6 586.4L860.6 588.4L861.6 596.4L853.6 600.4L850.6 598.4Z"/>
<path stroke-width="2.4" d="M834.5 560.2C835.5 560.6 838.5 562.4 840.5 562.3C842.5 562.1 845.5 559.7 846.5 559.2"/>
<path stroke-width="2.6" d="M836.5 568.3C837.2 569 839.2 572 840.5 572.3C841.8 572.6 843.9 570.6 844.5 570.3"/>
<path stroke-width="2.2" d="M844.5 560.2C845.5 560.1 849.5 558.9 850.6 559.2C851.6 559.6 850.6 561.7 850.6 562.3"/>
<path stroke-width="2.4" d="M830.5 566.3L836.5 564.3"/>
<path stroke-width="2" d="M816.4 604.5C818.7 603.3 825.6 600.1 830.5 597.4C835.3 594.7 843 589.9 845.5 588.4"/>
<path stroke-width="2.8" d="M804.3 606.5C804.7 607.5 805.5 609.9 806.3 612.5C807.2 615.1 808.8 620.4 809.3 621.9"/>
<path stroke="none" fill="#000" d="M809.3 608.5L814.4 605.5L816.4 612.5L820.4 612.5L818.4 616.5L812.4 617.5L809.3 616.5Z"/>
<path stroke="none" fill="#fff" d="M810.4 610.5L813.9 608.5L814.4 612.5L810.9 614.5Z"/>
<path stroke-width="2.2" d="M791.3 590.1C791.8 589.4 792.1 587.5 794.3 586C796.4 584.5 802.6 581.8 804.3 581"/>
<path stroke-width="2.4" d="M792.3 591.1L800.3 590.1L802.3 597.1L804.3 600.1M804.3 593.1L809.3 600.1L813.4 601.1L823.4 595.1"/>
<path stroke-width="2" d="M810.4 597.1L822.4 592.1"/>
<path stroke="none" fill="#000" d="M818.4 583L828.4 583L827.4 592.1L821.4 597.1L818.4 590.1Z"/>
<path stroke-width="2.6" d="M844.5 585C845.2 585.9 847.5 587.5 848.5 590.1C849.5 592.6 850.2 598.4 850.6 600.1"/>
<path stroke-width="2.8" d="M849.5 590.1L855.6 586L860.6 588L861.6 595.1L853.6 600.1L850.6 598.1"/>
<path stroke-width="2" d="M791.7 590.4C792 589.7 792.2 587.7 793.7 586.4C795.2 585 798 583.9 800.8 582.4C803.5 580.8 808.5 578.2 810 577.3"/>
<path stroke="none" fill="#000" d="M797.9 571.2L804.1 565.5L813.7 559.3L808.7 552L817.1 554.8L827.3 549.1L831.8 549.1L840.9 553.7L849.4 557.6L857.8 560.4L866.3 568.9L872 577.4L874.2 585.9L872 591.5L865.2 597L846.5 597L840.9 591.5L829.6 597L790 597L790 591.5L793.4 585.9L801.3 580.2L809.8 575.7L804.1 575.7Z"/>
<path stroke="none" fill="#fff" d="M821.5 555.4L826.7 551.2L828.7 551.9L828.7 556.8L832.2 557.1L832.5 551.6L839.8 555.7L831.5 562.3ZM806.6 576.5L821.1 567.6L826.6 568.3L833.5 571L836.3 568.3L836.3 571.7L830.8 571.7L823.9 571L815.6 574.5L811.4 577.9ZM816.9 579.6L823.8 575.5L832.1 575.5L830 581L823.8 583.8L820.3 583.8ZM794.4 586.9L800.6 582.7L810.9 577.2L817.8 580.7L805.4 589.6L797.8 589.6ZM802.6 591.8L815 584.2L821.9 587L810.9 594.5L805.3 594.5ZM836.4 568.4L839.8 566.4L840.5 569.8L844 571.9L839.1 576L836.4 574ZM842.1 564.6L853.2 565.9L849 569.4L846.3 567.3ZM842.3 562.9L846.5 560.2L850.6 560.2L850.6 562.2L843.7 563.3ZM843.8 557.5L849.3 557L849.3 558.4L844.1 559ZM829.7 563L833.1 561.6L835.2 563L835.2 564.4L831.7 565.1L831.7 567.1L829.7 567.1ZM840.5 578.4L857 570.1L857 571.6L850.1 576.3L845.3 579.8L852.9 577.7L855 581.8L847.4 588.7L844.6 585.3L839.1 582.5ZM827.5 585.4L833.7 581.3L839.2 582.7L833.7 586.8L829.6 587.5ZM849.4 588.1L853.5 585.3L857.6 586.7L852.1 590.8L849.4 591.5ZM858.7 565.2L862.1 565.9L869.7 574.2L872.5 581.1L873.1 588L871.1 589.4L868.3 580.4L865.6 574.2L858.7 568.7ZM854.7 564.5L856.8 564.5L858.1 569.3L856.1 570.7ZM857.9 574L859.2 574L859.9 578.8L855.8 580.2L855.8 578.8L857.9 578.4ZM860.9 573.2L863 575.3L864.3 580.8L863 581.5ZM858.6 581.5L860.6 580.8L863.4 587L860.6 587ZM801.9 569.4L813.6 563.5L814.6 564.5L802.9 570.4ZM790.4 591.5L797.3 588.8L796 591.5L793.2 594.3ZM802.2 597.4L802.9 593.5L814 592.1L823.6 594.9L820.9 597.4ZM838.6 557.7L841.3 557L840.6 560.5L837.2 563.2L836.5 562.6ZM824.9 561.4L826.9 560.7L826.9 563.5L824.9 563.8ZM815.7 557.2L821.9 557.2L823.3 562L820.6 561.3ZM807.2 551.8L817.5 558.1L816.2 558.9L807.5 553.6ZM845.7 569.1L849.8 571.2L846.4 572.9ZM792.5 594.8L800.8 591.4L802.2 597.4L793.9 597.4ZM823 591.5L829.9 588.7L834 591.5L825.7 595.6ZM856 591.2L861.5 588.5L864.2 594L858.7 597.5Z"/></g>
<!--/PARTS-->
</svg>

<!-- text -->
<div class="t sans" id="scb" style="left:311.3px;top:38.8px;font-size:20.6px;">SCB</div>
<div class="t sans" id="xtr" style="left:809.3px;top:55px;font-size:20.4px;">XTR</div>

<div class="t sans" id="c1" style="left:488.5px;top:89.5px;font-size:20px;">1</div>
<div class="t sans" id="c2" style="left:981.5px;top:89.5px;font-size:20px;">1</div>
<div class="t sans" id="c3" style="left:1031.5px;top:89.5px;font-size:20px;">2</div>
<div class="t sans" id="c4" style="left:56.5px;top:420.5px;font-size:20px;">1</div>
<div class="t sans" id="c5" style="left:542.5px;top:420px;font-size:20px;">1</div>
<div class="t sans" id="c6" style="left:1119.5px;top:419.5px;font-size:20px;">2</div>

<div class="t sans" id="wroof" style="left:577px;top:420.7px;font-size:18px;">W (ROOF CONSOLE BOX)</div>

<div class="t mono" id="r1a" style="left:319.5px;top:490.5px;font-size:18px;transform:scale(1.01,1.18);">REFER TO</div>
<div class="t mono" id="r1b" style="left:319.5px;top:512.5px;font-size:18px;transform:scale(1.01,1.18);">FIG 82-02</div>
<div class="t mono" id="r1c" style="left:319.5px;top:534.5px;font-size:18px;transform:scale(1.01,1.18);">(PNC 82171)</div>

<div class="t mono" id="r2a" style="left:1395px;top:500.5px;font-size:18px;transform:scale(1.01,1.18);">REFER TO</div>
<div class="t mono" id="r2b" style="left:1395px;top:522.5px;font-size:18px;transform:scale(1.01,1.18);">FIG 82-02</div>
<div class="t mono" id="r2c" style="left:1395px;top:544.5px;font-size:18px;transform:scale(1.01,1.18);">(PNC 82171)</div>

<div class="t serif" id="n1" style="left:204.8px;top:538.4px;font-size:28px;transform:scale(0.83,1);">81260C</div>
<div class="t serif" id="n2" style="left:259.2px;top:644.4px;font-size:28px;transform:scale(0.83,1);">81260A</div>
<div class="t serif" id="n3" style="left:1277.3px;top:548.4px;font-size:28px;transform:scale(0.83,1);">81240B</div>
<div class="t serif" id="n4" style="left:1331.3px;top:655.3px;font-size:28px;transform:scale(0.83,1);">81240</div>

<div class="t sans" id="i1" style="left:747.3px;top:697px;font-size:17.8px;letter-spacing:0.1px;">REFER TO</div>
<div class="t sans" id="i2" style="left:747.3px;top:720.7px;font-size:17.8px;letter-spacing:0.45px;">ILLUST NO.</div>
<div class="t sans" id="i3" style="left:747.3px;top:744.3px;font-size:17.8px;letter-spacing:0.4px;">2 OF 2</div>

<div class="t sans" id="code" style="left:1510.2px;top:1077.2px;font-size:19.9px;">81A503B</div>
</body>
</html>
